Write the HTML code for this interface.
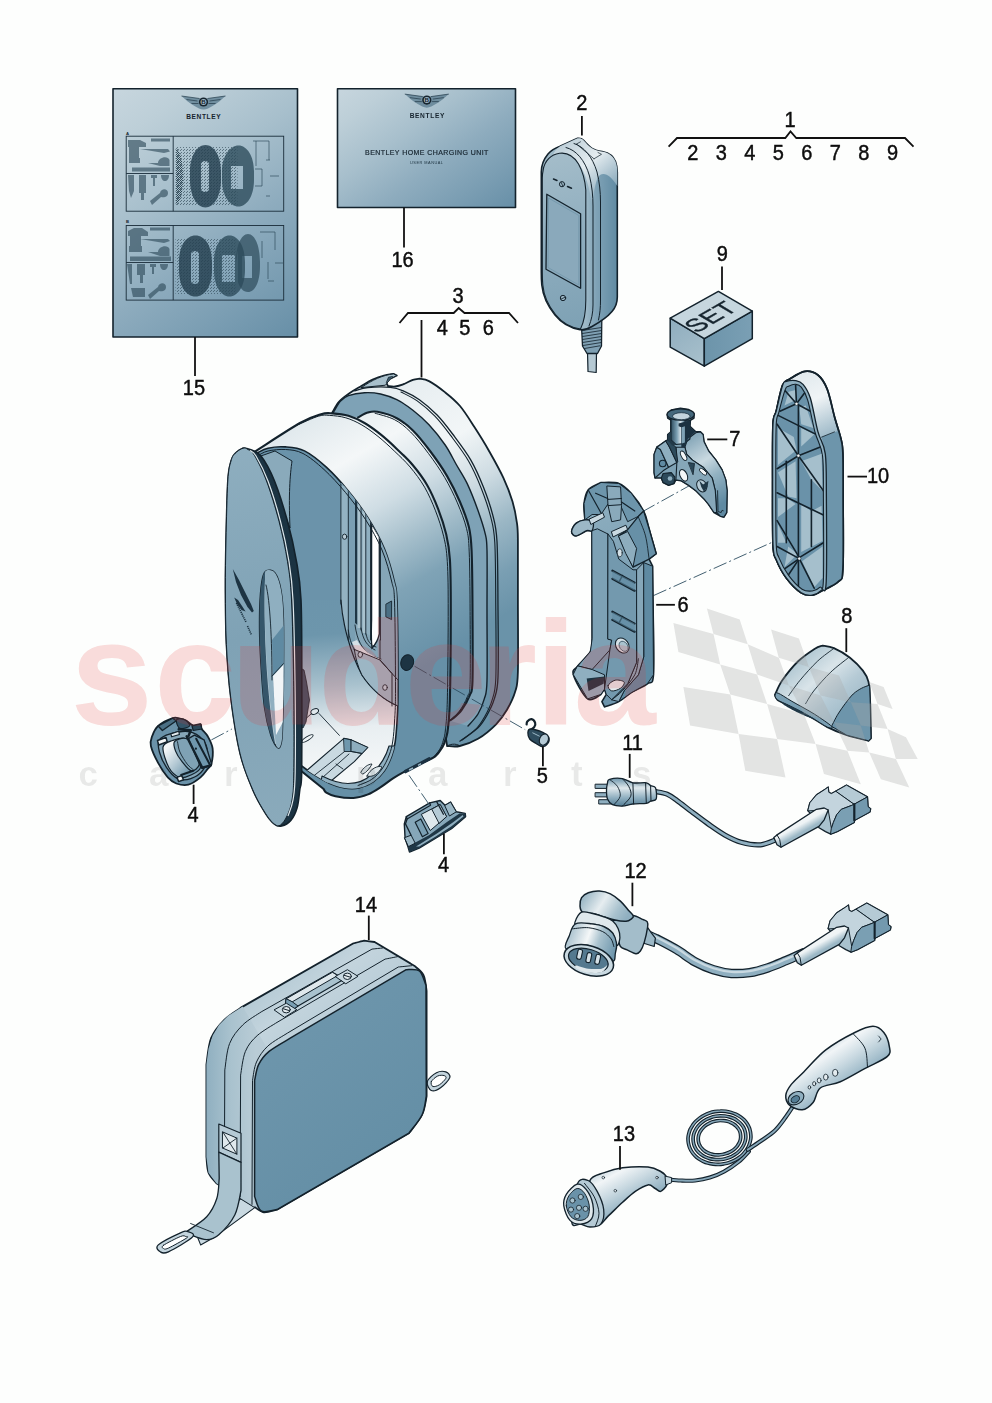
<!DOCTYPE html>
<html><head><meta charset="utf-8"><title>Parts diagram</title>
<style>
html,body{margin:0;padding:0;background:#fff;}
body{width:992px;height:1403px;overflow:hidden;}
svg{display:block;}
svg text{font-family:"Liberation Sans",sans-serif;}
.o{stroke:#13222c;stroke-linejoin:round;stroke-linecap:round;}
.n{fill:none;stroke:#13222c;stroke-linejoin:round;stroke-linecap:round;}
.lbl{font-size:21.5px;fill:#0d0d0d;stroke:#0d0d0d;stroke-width:.45px;}
.ld{stroke:#111;stroke-width:1.8;fill:none;}
</style></head><body>
<svg width="992" height="1403" viewBox="0 0 992 1403">
<rect width="992" height="1403" fill="#fdfefd"/>
<g opacity=".999">
<!-- defs -->
<defs>
<linearGradient id="gSheet" gradientUnits="userSpaceOnUse" x1="113" y1="88.7" x2="290.5" y2="342">
<stop offset="0" stop-color="#c7d6de"/><stop offset="0.15" stop-color="#bdcfd8"/><stop offset="0.38" stop-color="#a7bfcc"/><stop offset="0.6" stop-color="#8eacbe"/><stop offset="0.8" stop-color="#7b9eb3"/><stop offset="1" stop-color="#678fa7"/>
</linearGradient>
<pattern id="dith" width="2" height="2" patternUnits="userSpaceOnUse"><rect width="1" height="1" fill="#1c3442"/><rect x="1" y="1" width="1" height="1" fill="#1c3442"/></pattern>
<pattern id="dith2" width="3" height="3" patternUnits="userSpaceOnUse"><rect width="1" height="1" fill="#1c3442"/><rect x="1" y="2" width="1" height="1" fill="#1c3442"/></pattern>
<linearGradient id="gSheet16" gradientUnits="userSpaceOnUse" x1="337" y1="89" x2="451.5" y2="252.4">
<stop offset="0" stop-color="#c7d6de"/><stop offset="0.15" stop-color="#bdcfd8"/><stop offset="0.38" stop-color="#a7bfcc"/><stop offset="0.6" stop-color="#8eacbe"/><stop offset="0.8" stop-color="#7b9eb3"/><stop offset="1" stop-color="#678fa7"/>
</linearGradient>
</defs>

<!-- sheets -->
<g id="sheet15">
<rect x="113" y="88.7" width="184.5" height="248.3" fill="url(#gSheet)" class="o" stroke-width="1.6"/>
<g id="wings15" transform="translate(203.5,102)">
<path d="M-4 -3.500L-22 -6C-18.500 -2.500-14 1-9 4C-6 6-3 7.300 0 7.600C3 7.300 6 6 9 4C14 1 18.500 -2.500 22 -6L4 -3.500Z" fill="#5f7f92" opacity=".8"/>
<path d="M-22 -6L-4 -3.500M22 -6L4 -3.500M-17 -2.500L-6 -1M17 -2.500L6 -1M-12 1.500L-5 1.500M12 1.500L5 1.500" stroke="#1f3746" stroke-width=".8" fill="none" opacity=".85"/>
<circle cx="0" cy="0" r="4.600" fill="#16242e"/><circle cx="0" cy="0" r="3" fill="#9fb8c6"/>
<text x="0" y="2.300" font-size="6.200" font-weight="bold" text-anchor="middle" fill="#16242e">B</text>
</g>
<text x="203.4" y="118.8" font-size="6.6" font-weight="bold" text-anchor="middle" fill="#16242e" textLength="34.5" lengthAdjust="spacing">BENTLEY</text>
<text x="126" y="134.6" font-size="4.2" font-weight="bold" fill="#16242e">A</text>
<text x="126" y="222.8" font-size="4.2" font-weight="bold" fill="#16242e">B</text>
<g fill="none" stroke="#1a2d3a" stroke-width="0.9">
<rect x="126.2" y="136.2" width="157.5" height="75"/><path d="M173.2 136.2V211.2M126.2 173.5H173.2"/>
<rect x="126.2" y="225.5" width="157.5" height="74.6"/><path d="M173.2 225.5V300.1M126.2 262.5H173.2"/>
</g>
<!-- panel A ovals -->
<g>
<rect x="175.5" y="147" width="62" height="58" fill="url(#dith2)" opacity=".55"/>
<path d="M176 148C185 152 186 200 176 205Z" fill="url(#dith)" opacity=".8"/>
<path d="M190 171.5C190 156 197 145 205.5 145C214 145 221 156 221 171.5V180C221 196 214 207.5 205.5 207.5C197 207.5 190 196 190 180ZM201 164V189C201 193 209 193 209 189V164C209 160 201 160 201 164Z" fill="#24404f" fill-rule="evenodd" opacity=".82"/>
<path d="M222 171.5C222 156 230 145.5 238.5 145.5C247 145.5 254 156 254 171.5V180C254 196 247 206.5 238.5 206.5C230 206.5 222 196 222 180ZM231 166V189H243V166Z" fill="#2c4a5a" fill-rule="evenodd" opacity=".78"/>
<path d="M253 141H269V160M256 141V166M262 169V186M255 169H262M255 186H262M270 176H279M266 196H270M266 160H270" fill="none" stroke="#2a4656" stroke-width="0.8" opacity=".8"/>
</g>
<!-- panel B ovals -->
<g>
<rect x="175.5" y="238" width="60" height="56" fill="url(#dith2)" opacity=".5"/>
<path d="M179 262C179 246 186 235.5 195.5 235.5C205 235.5 212 246 212 262V270C212 286 205 296.5 195.5 296.5C186 296.5 179 286 179 270ZM191 254V281C191 285 199 285 199 281V254C199 250 191 250 191 254Z" fill="#24404f" fill-rule="evenodd" opacity=".82"/>
<path d="M214 262C214 246 221 235.500 229.500 235.500C238 235.500 245 246 245 262V270C245 286 238 296.500 229.500 296.500C221 296.500 214 286 214 270ZM222 255V282H235V255Z" fill="#2c4a5a" fill-rule="evenodd" opacity=".78"/>
<path d="M236 262C236 246 241 234 248 234C255 234 260 246 260 262V266C260 282 255 292 248 292C243 292 240 288 238 282V250ZM242 256V278H252V256Z" fill="#2c4a5a" fill-rule="evenodd" opacity=".7"/>
<path d="M260 232H275V250M262 241V258M268 262V279M275 263H283M268 281H274" fill="none" stroke="#2a4656" stroke-width="0.8" opacity=".8"/>
</g>
<!-- tools A -->
<g fill="#2d4959" opacity=".62">
<path d="M128 140H140L146 143V147H139V162H129V147H128Z"/><rect x="129" y="158" width="11" height="5"/>
<rect x="151" y="138.500" width="19" height="3"/><path d="M140 149H168L170 151.500L164 153Z"/>
<path d="M148 163H158C158 157 168 155 169.500 160V166H160Z"/>
<rect x="132" y="167.500" width="38" height="4"/>
<path d="M128 175H134V191L131 198L129 191ZM139 175H146V193H144V200H141V193H139ZM151 175H157V178H155V186H153V178H151ZM161 175H169C169 183 161 183 161 175Z"/>
<path d="M150 201L160 193C161 188 168 188 168 193C168 197 164 198 161 197L152 205Z"/>
</g>
<!-- tools B -->
<g fill="#2d4959" opacity=".62">
<path d="M128 231L134 228H142L148 232V236H141V248H130V236H128Z"/><rect x="129" y="246" width="13" height="6"/>
<rect x="150" y="227.500" width="20" height="3"/><path d="M140 239H168L170 241L164 243Z"/>
<path d="M148 252H158C158 246 168 244 169.500 249V256H160Z"/>
<rect x="130" y="256.500" width="41" height="4.500"/>
<path d="M127 264H132V284H130ZM137 264H145V275H143V283H140V275H137ZM150 264H156V267H154V274H152V267H150ZM160 264H168C168 272 160 272 160 264Z"/>
<path d="M131 288H145V297H133Z"/>
<path d="M148 295L158 287C159 282 166 282 166 287C166 291 162 292 159 291L150 299Z"/>
</g>
</g>
<g id="sheet16">
<rect x="337.500" y="88.7" width="178" height="118.8" fill="url(#gSheet16)" class="o" stroke-width="1.6"/>
<g transform="translate(426.8,100.1)">
<path d="M-4 -3.500L-22 -6C-18.500 -2.500-14 1-9 4C-6 6-3 7.300 0 7.600C3 7.300 6 6 9 4C14 1 18.500 -2.500 22 -6L4 -3.500Z" fill="#5f7f92" opacity=".8"/>
<path d="M-22 -6L-4 -3.500M22 -6L4 -3.500M-17 -2.500L-6 -1M17 -2.500L6 -1M-12 1.500L-5 1.500M12 1.500L5 1.500" stroke="#1f3746" stroke-width=".8" fill="none" opacity=".85"/>
<circle cx="0" cy="0" r="4.600" fill="#16242e"/><circle cx="0" cy="0" r="3" fill="#9fb8c6"/>
<text x="0" y="2.300" font-size="6.200" font-weight="bold" text-anchor="middle" fill="#16242e">B</text>
</g>
<text x="427" y="117.600" font-size="6.600" font-weight="bold" text-anchor="middle" fill="#16242e" textLength="34.700" lengthAdjust="spacing">BENTLEY</text>
<text x="426.700" y="154.600" font-size="7" text-anchor="middle" fill="#16242e" stroke="#16242e" stroke-width=".18" textLength="123.300" lengthAdjust="spacing">BENTLEY HOME CHARGING UNIT</text>
<text x="426.500" y="163.800" font-size="3.900" text-anchor="middle" fill="#1d3340" textLength="33" lengthAdjust="spacing">USER MANUAL</text>
</g>

<!-- part2 -->
<defs>
<linearGradient id="g2side" gradientUnits="userSpaceOnUse" x1="585" y1="0" x2="618" y2="0"><stop offset="0" stop-color="#9fbac8"/><stop offset=".35" stop-color="#7fa2b6"/><stop offset="1" stop-color="#5f8aa2"/></linearGradient>
<linearGradient id="g2top" gradientUnits="userSpaceOnUse" x1="560" y1="140" x2="612" y2="200"><stop offset="0" stop-color="#b9ccd6"/><stop offset=".45" stop-color="#e4ecf0"/><stop offset=".8" stop-color="#9db8c7"/><stop offset="1" stop-color="#6f97ad"/></linearGradient>
<linearGradient id="g2face" gradientUnits="userSpaceOnUse" x1="545" y1="160" x2="585" y2="320"><stop offset="0" stop-color="#a3bcc9"/><stop offset=".5" stop-color="#8eadbe"/><stop offset="1" stop-color="#7fa2b5"/></linearGradient>
</defs>
<g id="part2">
<!-- gland + cable -->
<path d="M587.500 352L588 371.500L596.200 372.500L596.500 352Z" fill="#b5c9d3" class="o" stroke-width="1.2"/>
<path d="M581.500 326L582.500 346L587 353.500H597.500L601.500 346L601.800 320Z" fill="#7fa0b3" class="o" stroke-width="1.3"/>
<path d="M582.300 330.500L601.500 327.500M582.300 333.500L601.500 330.500M582.500 336.500L601.500 333.500M582.500 339.500L601.500 336.500M582.600 342.500L601.500 339.500M583 345.500L601.500 342.500M584.500 348.500L600 345.800" class="n" stroke-width=".8"/>
<!-- body -->
<path d="M577.600 138.300C580 138 582 138.600 583.500 140.200C586 143 588.500 146 592 148.300C595 150.300 599 151 603 151.800C609 153 613.500 156.500 615.500 161.500C616.800 165 617.300 168 617.300 172V297C617.300 303 615.500 307.500 612 311.500C607 317.500 600 322 592 326.500C588 328.800 584 330.200 580 329.600C570 328 561 322.500 555 315C548 306.500 543 296.500 541.800 285C541.300 280 541.300 276 541.300 272V172C541.300 165 543.500 159.500 548 154C551.500 150 555.500 148 560 146.300Z" fill="url(#g2side)" class="o" stroke-width="1.6"/>
<!-- top light -->
<path d="M577.600 138.300C580 138 582 138.600 583.500 140.200C586 143 588.500 146 592 148.300C595 150.300 599 151 603 151.800C609 153 613.500 156.500 615.500 161.500C616.800 165 617.300 168 617.300 172V186C611 176 605 172 600 175C596 178 594 190 592 206C590 190 586 172 577 161C570 153 560 152 552 157C554 152 556.500 148.500 560 146.300Z" fill="url(#g2top)"/>
<!-- face -->
<path d="M543.200 170C544.500 161 551 154.500 559.500 153.300C567 152.300 574 156.500 578.500 164C582.500 171 585 180 585.800 190V300C585.800 312 584 322 580.500 329C571 327.500 561.500 322 555.500 314.500C548.500 306 543.800 296 542.800 285C542.300 280 542.300 276 542.300 272V178C542.300 175 542.600 172.500 543.200 170Z" fill="url(#g2face)" class="o" stroke-width="1.1"/>
<!-- side seams -->
<path d="M566 147.500C576 150 585 160 589.500 176C592 186 593 196 593 206V305C593 313 591.500 320 589 326" class="n" stroke-width="1"/>
<path d="M574 143.500C584 146.500 592.500 157 597 172C599.500 182 600.500 192 600.500 202V300C600.500 308 600 313 598.500 320" class="n" stroke-width="1"/>
<path d="M576.5 144L580.500 141.800M594 158.800L601.500 154.300L598 152.500M594 158.800L577 144.500" class="n" stroke-width=".7"/>
<!-- screen -->
<path d="M546.800 194.200L580.600 213.800V288.300L546 269.200Z" fill="#8aa9bb" class="o" stroke-width="1.3"/>
<path d="M548.500 198L578.800 215.500V285L548 267.500Z" fill="none" stroke="#6f93a8" stroke-width=".7"/>
<!-- buttons -->
<circle cx="562" cy="184.200" r="2.600" fill="#9ab5c4" class="o" stroke-width="1"/><path d="M561.200 182.500L562.800 186" class="n" stroke-width=".8"/>
<path d="M553.500 179L557 180.500M567.500 186.500L571.500 188.200" class="n" stroke-width="1.500"/>
<circle cx="563" cy="298" r="2.700" fill="#9ab5c4" class="o" stroke-width="1"/><path d="M561.300 299L564.800 297.300" class="n" stroke-width=".8"/>
</g>

<!-- part9 -->
<defs>
<linearGradient id="g9l" gradientUnits="userSpaceOnUse" x1="670" y1="320" x2="704" y2="366"><stop offset="0" stop-color="#8fadbe"/><stop offset="1" stop-color="#a9c1cd"/></linearGradient>
<linearGradient id="g9r" gradientUnits="userSpaceOnUse" x1="704" y1="340" x2="752" y2="340"><stop offset="0" stop-color="#6c94aa"/><stop offset="1" stop-color="#7a9fb4"/></linearGradient>
</defs>
<g id="part9">
<path d="M670.200 318.200L704.300 338.700V366.200L670.200 347.100Z" fill="url(#g9l)" class="o" stroke-width="1.5"/>
<path d="M704.300 338.700L752.300 311.100V338.700L704.300 366.200Z" fill="url(#g9r)" class="o" stroke-width="1.5"/>
<path d="M718.400 291.400L752.300 311.100L704.300 338.700L670.200 318.200Z" fill="#c6d6de" class="o" stroke-width="1.5"/>
<text transform="matrix(0.868 -0.497 0.858 0.514 696.8 333.4)" x="0" y="0" font-size="25" fill="#16242e" stroke="#16242e" stroke-width=".4" style="font-family:'Liberation Sans',sans-serif">SET</text>
</g>

<!-- part3 -->
<defs>
<linearGradient id="g3a" gradientUnits="userSpaceOnUse" x1="330" y1="400" x2="470" y2="640">
<stop offset="0" stop-color="#dfe8ec"/><stop offset=".22" stop-color="#f4f7f8"/><stop offset=".42" stop-color="#cfdde4"/><stop offset=".58" stop-color="#a3bdca"/><stop offset=".72" stop-color="#7fa3b6"/><stop offset="1" stop-color="#6690a7"/></linearGradient>
<linearGradient id="g3b" gradientUnits="userSpaceOnUse" x1="400" y1="380" x2="530" y2="600">
<stop offset="0" stop-color="#e6edf0"/><stop offset=".3" stop-color="#f2f6f7"/><stop offset=".5" stop-color="#cddbe2"/><stop offset=".68" stop-color="#9bb7c5"/><stop offset=".85" stop-color="#7a9fb3"/><stop offset="1" stop-color="#6a93a9"/></linearGradient>
<linearGradient id="g3cav" gradientUnits="userSpaceOnUse" x1="330" y1="560" x2="345" y2="770">
<stop offset="0" stop-color="#6a93aa"/><stop offset=".35" stop-color="#6d96ac"/><stop offset=".6" stop-color="#a9c2ce"/><stop offset=".8" stop-color="#e8eef1"/><stop offset="1" stop-color="#f4f7f8"/></linearGradient>
<linearGradient id="g3disc" gradientUnits="userSpaceOnUse" x1="225" y1="450" x2="300" y2="820">
<stop offset="0" stop-color="#8eaebf"/><stop offset=".5" stop-color="#7fa2b5"/><stop offset="1" stop-color="#8aaabb"/></linearGradient>
</defs>
<g id="part3">
<path d="M332.3 412.6C333.4 410.9 336.0 405.2 338.7 402.1C341.4 399.0 344.6 396.7 348.4 394.0C352.2 391.3 357.3 388.4 361.3 386.0C365.3 383.6 368.8 381.2 372.6 379.5C376.4 377.8 380.4 376.4 383.9 375.5C387.4 374.6 391.9 374.2 393.5 373.9L396.8 375.5L390.3 378.7L386.3 382.7L387.9 386.0C389.1 386.1 392.6 386.8 395.2 386.5C397.8 386.2 400.2 385.5 403.2 384.4C406.1 383.3 410.2 380.8 412.9 379.8C415.6 378.9 418.3 378.9 419.4 378.7C421.0 379.1 424.7 378.8 429.0 381.1C433.3 383.4 440.0 388.2 445.2 392.4C450.4 396.5 455.1 400.2 460.0 406.0C464.9 411.8 469.6 419.6 474.4 427.0C479.2 434.4 484.1 442.2 488.9 450.7C493.7 459.2 499.5 469.4 503.4 477.9C507.3 486.4 510.2 493.9 512.5 501.5C514.8 509.1 516.1 516.6 517.0 523.3C517.9 530.0 517.8 528.7 517.9 541.5C518.0 554.3 517.9 578.3 517.9 600.0C517.9 621.7 518.3 656.4 517.9 671.7C517.5 687.0 517.0 685.2 515.2 691.6C513.4 698.0 510.2 704.3 507.0 709.8C503.8 715.2 500.9 719.5 496.1 724.3C491.3 729.1 484.1 735.2 478.0 738.8C471.9 742.4 464.9 744.8 459.8 746.0C454.7 747.2 449.2 746.0 447.1 746.0L440 700L400 500Z" fill="url(#g3b)" class="o" stroke-width="1.8"/>
<path d="M361.3 387.6L385.5 385.2L390.3 378.7L396.8 375.5L393.5 373.9C383 375 372 380 361.3 387.6Z" fill="#a8c0cc" class="o" stroke-width="1"/>
<path d="M386.3 382.7L388.500 377.200L392.500 376.500" fill="#3c5d70" class="o" stroke-width=".8"/>
<path d="M333.5 412.3C334.6 410.5 337.8 404.1 340.3 401.3C342.8 398.5 344.4 397.0 348.4 395.6C352.4 394.2 359.1 393.0 364.5 392.7C369.9 392.4 375.2 392.8 380.6 394.0C386.0 395.2 391.4 397.0 396.8 399.7C402.2 402.4 407.5 406.0 412.9 410.2C418.3 414.4 423.6 418.9 429.0 424.7C434.4 430.5 440.7 438.4 445.2 445.0C449.7 451.6 452.4 457.6 456.0 464.0C459.6 470.4 463.4 475.6 467.1 483.4C470.8 491.2 475.0 502.1 478.0 510.6C481.0 519.1 483.8 527.6 485.3 534.2C486.8 540.9 486.7 537.9 487.0 550.5C487.3 563.1 487.0 588.3 487.0 610.0C487.0 631.7 487.4 665.9 487.0 680.7C486.6 695.5 485.8 693.4 484.3 698.9C482.8 704.4 480.7 709.5 478.0 714.0C475.3 718.5 469.7 724.0 468.0 726.0L449 720.6C449.6 720.3 450.5 720.6 452.6 718.8C454.7 717.0 458.8 713.7 461.7 709.8C464.6 705.9 468.0 700.1 469.8 695.2C471.6 690.4 472.1 694.9 472.5 680.7C472.9 666.5 472.6 631.7 472.5 610.0C472.4 588.3 472.2 564.3 471.6 550.5C471.0 536.7 470.9 535.2 468.9 527.0C466.9 518.8 463.4 510.0 459.8 501.5C456.2 493.0 451.9 484.4 447.1 476.1C442.3 467.9 436.5 459.6 430.8 452.0C425.1 444.4 418.6 436.1 412.9 430.5C407.2 424.9 402.7 421.3 396.8 418.2C390.9 415.1 382.2 412.7 377.4 411.8C372.5 410.9 370.9 411.7 367.7 412.6C364.5 413.5 361.2 416.0 358.1 417.4C355.0 418.8 352.7 421.1 349.0 421.0C345.3 420.9 338.2 417.7 336.0 417.0Z" fill="#7ea2b6" stroke="none"/>
<path d="M354.8 390.8C356.9 390.3 361.8 388.2 367.7 387.6C373.6 387.0 384.4 386.8 390.3 387.3C396.2 387.8 398.4 388.7 403.2 390.8C408.0 392.9 413.8 395.7 419.4 399.7C425.0 403.7 431.6 409.3 437.1 415.0C442.6 420.7 447.0 426.5 452.6 434.0C458.2 441.5 465.6 451.0 470.7 459.8C475.8 468.6 479.8 477.9 483.4 487.0C487.0 496.1 490.2 505.1 492.5 514.2C494.8 523.3 496.1 525.5 497.0 541.5C497.9 557.5 497.8 587.4 498.0 610.0C498.2 632.6 498.6 662.3 498.0 677.1C497.4 691.9 496.1 692.5 494.3 698.9C492.5 705.2 489.7 710.4 487.0 715.2C484.3 720.0 482.2 723.8 478.0 727.9C473.8 732.0 464.7 738.0 462.0 740.0" class="n" stroke-width="1.3"/>
<path d="M403.2 390.8C405.9 392.3 413.8 395.7 419.4 399.7C425.0 403.7 431.6 409.3 437.1 415.0C442.6 420.7 447.0 426.5 452.6 434.0C458.2 441.5 465.6 451.0 470.7 459.8C475.8 468.6 479.8 477.9 483.4 487.0C487.0 496.1 490.2 505.1 492.5 514.2C494.8 523.3 496.1 525.5 497.0 541.5C497.9 557.5 497.8 587.4 498.0 610.0C498.2 632.6 498.6 662.3 498.0 677.1C497.4 691.9 496.1 692.5 494.3 698.9C492.5 705.2 489.7 710.4 487.0 715.2C484.3 720.0 482.2 723.8 478.0 727.9C473.8 732.0 464.7 738.0 462.0 740.0" class="n" stroke-width="1.1" transform="translate(-2.2,1.2)"/>
<path d="M333.5 412.3C334.6 410.5 337.8 404.1 340.3 401.3C342.8 398.5 344.4 397.0 348.4 395.6C352.4 394.2 359.1 393.0 364.5 392.7C369.9 392.4 375.2 392.8 380.6 394.0C386.0 395.2 391.4 397.0 396.8 399.7C402.2 402.4 407.5 406.0 412.9 410.2C418.3 414.4 423.6 418.9 429.0 424.7C434.4 430.5 440.7 438.4 445.2 445.0C449.7 451.6 452.4 457.6 456.0 464.0C459.6 470.4 463.4 475.6 467.1 483.4C470.8 491.2 475.0 502.1 478.0 510.6C481.0 519.1 483.8 527.6 485.3 534.2C486.8 540.9 486.7 537.9 487.0 550.5C487.3 563.1 487.0 588.3 487.0 610.0C487.0 631.7 487.4 665.9 487.0 680.7C486.6 695.5 485.8 693.4 484.3 698.9C482.8 704.4 480.7 709.5 478.0 714.0C475.3 718.5 469.7 724.0 468.0 726.0" class="n" stroke-width="1.4"/>
<path d="M358.1 417.4C359.7 416.6 364.5 413.5 367.7 412.6C370.9 411.7 372.5 410.9 377.4 411.8C382.2 412.7 390.9 415.1 396.8 418.2C402.7 421.3 407.2 424.9 412.9 430.5C418.6 436.1 425.1 444.4 430.8 452.0C436.5 459.6 442.3 467.9 447.1 476.1C451.9 484.4 456.2 493.0 459.8 501.5C463.4 510.0 466.9 518.8 468.9 527.0C470.9 535.2 471.0 536.7 471.6 550.5C472.2 564.3 472.4 588.3 472.5 610.0C472.6 631.7 472.9 666.5 472.5 680.7C472.1 694.9 471.6 690.4 469.8 695.2C468.0 700.1 464.6 705.9 461.7 709.8C458.8 713.7 454.7 717.0 452.6 718.8C450.5 720.6 449.6 720.3 449.0 720.6L448 727.9C446.3 736.4 447.4 734.4 448.0 727.9C448.6 721.4 449.4 718.5 449.9 698.9C450.4 679.2 450.8 633.2 450.8 610.0C450.8 586.8 450.7 572.2 449.9 559.6C449.1 547.0 448.2 542.7 446.2 534.2C444.2 525.7 441.3 517.0 438.1 508.8C434.9 500.6 431.4 492.5 427.2 485.2C423.0 477.9 417.8 471.1 412.7 465.0C407.6 458.9 402.1 454.0 396.8 448.9C391.5 443.8 386.0 438.7 380.6 434.4C375.2 430.1 369.9 426.1 364.5 423.0C359.1 419.9 353.8 417.4 348.4 415.8C343.0 414.2 335.0 413.8 332.3 413.4Z" fill="url(#g3a)" stroke="none"/>
<path d="M358.1 417.4C359.7 416.6 364.5 413.5 367.7 412.6C370.9 411.7 372.5 410.9 377.4 411.8C382.2 412.7 390.9 415.1 396.8 418.2C402.7 421.3 407.2 424.9 412.9 430.5C418.6 436.1 425.1 444.4 430.8 452.0C436.5 459.6 442.3 467.9 447.1 476.1C451.9 484.4 456.2 493.0 459.8 501.5C463.4 510.0 466.9 518.8 468.9 527.0C470.9 535.2 471.0 536.7 471.6 550.5C472.2 564.3 472.4 588.3 472.5 610.0C472.6 631.7 472.9 666.5 472.5 680.7C472.1 694.9 471.6 690.4 469.8 695.2C468.0 700.1 464.6 705.9 461.7 709.8C458.8 713.7 454.7 717.0 452.6 718.8C450.5 720.6 449.6 720.3 449.0 720.6" class="n" stroke-width="2.1"/>
<path d="M377.4 411.8C380.6 412.9 390.9 415.1 396.8 418.2C402.7 421.3 407.2 424.9 412.9 430.5C418.6 436.1 425.1 444.4 430.8 452.0C436.5 459.6 442.3 467.9 447.1 476.1C451.9 484.4 456.2 493.0 459.8 501.5C463.4 510.0 466.9 518.8 468.9 527.0C470.9 535.2 471.0 536.7 471.6 550.5C472.2 564.3 472.4 588.3 472.5 610.0C472.6 631.7 472.9 666.5 472.5 680.7C472.1 694.9 471.6 690.4 469.8 695.2C468.0 700.1 464.6 705.9 461.7 709.8C458.8 713.7 454.7 717.0 452.6 718.8C450.5 720.6 449.6 720.3 449.0 720.6" class="n" stroke-width="1" transform="translate(-2.4,1.4)"/>
<path d="M254.1 452.0C261.8 447.2 288.9 429.3 300.0 423.0C311.1 416.7 315.6 415.8 321.0 414.2C326.4 412.6 327.7 413.1 332.3 413.4C336.9 413.7 343.0 414.2 348.4 415.8C353.8 417.4 359.1 419.9 364.5 423.0C369.9 426.1 375.2 430.1 380.6 434.4C386.0 438.7 391.5 443.8 396.8 448.9C402.1 454.0 407.6 458.9 412.7 465.0C417.8 471.1 423.0 477.9 427.2 485.2C431.4 492.5 434.9 500.6 438.1 508.8C441.3 517.0 444.2 525.7 446.2 534.2C448.2 542.7 449.1 547.0 449.9 559.6C450.7 572.2 450.8 586.8 450.8 610.0C450.8 633.2 450.4 679.2 449.9 698.9C449.4 718.5 448.6 721.4 448.0 727.9C447.4 734.4 446.9 734.9 446.0 738.1C445.1 741.3 444.2 744.2 442.4 747.2C440.6 750.2 438.8 753.6 435.2 756.3C431.6 759.0 425.5 761.1 420.6 763.5C415.8 765.9 410.6 768.4 406.1 770.8C401.6 773.2 397.6 775.4 393.4 778.1C389.2 780.8 384.9 784.4 380.7 787.1C376.5 789.8 372.5 792.6 368.0 794.4C363.5 796.2 358.9 797.7 353.5 798.0C348.1 798.3 339.9 797.1 335.4 796.2C330.9 795.3 328.3 793.8 326.3 792.6C324.3 791.4 324.1 789.6 323.6 789.0L300 770L299.8 590L290 540L275 495L262 465Z" fill="url(#g3a)" class="o" stroke-width="2.1"/>
<path d="M300.0 423.0C303.5 421.5 315.6 415.8 321.0 414.2C326.4 412.6 327.7 413.1 332.3 413.4C336.9 413.7 343.0 414.2 348.4 415.8C353.8 417.4 359.1 419.9 364.5 423.0C369.9 426.1 375.2 430.1 380.6 434.4C386.0 438.7 391.5 443.8 396.8 448.9C402.1 454.0 407.6 458.9 412.7 465.0C417.8 471.1 423.0 477.9 427.2 485.2C431.4 492.5 434.9 500.6 438.1 508.8C441.3 517.0 444.2 525.7 446.2 534.2C448.2 542.7 449.1 547.0 449.9 559.6C450.7 572.2 450.8 586.8 450.8 610.0C450.8 633.2 450.4 679.2 449.9 698.9C449.4 718.5 448.6 721.4 448.0 727.9C447.4 734.4 446.9 734.9 446.0 738.1C445.1 741.3 444.2 744.2 442.4 747.2C440.6 750.2 436.4 754.8 435.2 756.3" class="n" stroke-width="1" transform="translate(-2.6,2)"/>
<path d="M256.6 453.2C258.5 452.4 263.2 449.2 268.0 448.2C272.8 447.1 279.5 446.4 285.6 446.9C291.7 447.3 297.7 447.5 304.5 450.9C311.3 454.3 319.0 460.5 326.3 467.2C333.6 473.9 341.2 482.3 348.1 490.8C355.1 499.3 361.9 508.3 368.0 518.0C374.1 527.7 380.0 538.3 384.4 548.9C388.8 559.5 392.2 572.4 394.3 581.5C396.4 590.6 396.5 585.2 397.1 603.3C397.7 621.4 398.0 670.5 398.0 690.0C398.0 709.5 397.6 711.4 397.1 720.0C396.6 728.6 396.1 735.8 395.2 741.8C394.3 747.8 393.4 751.5 391.6 756.3C389.8 761.1 387.4 766.6 384.4 770.8C381.4 775.0 377.7 778.8 373.5 781.7C369.3 784.6 363.9 787.0 359.0 788.0C354.1 789.0 349.2 788.8 344.4 788.0C339.5 787.2 335.0 785.8 329.9 783.5C324.8 781.2 318.4 777.4 313.6 774.4C308.8 771.4 303.0 766.9 300.9 765.4L299.8 590L290 540L275 495L262 465Z" fill="url(#g3cav)" class="o" stroke-width="1.6"/>
<clipPath id="cav"><path d="M256.6 453.2C258.5 452.4 263.2 449.2 268.0 448.2C272.8 447.1 279.5 446.4 285.6 446.9C291.7 447.3 297.7 447.5 304.5 450.9C311.3 454.3 319.0 460.5 326.3 467.2C333.6 473.9 341.2 482.3 348.1 490.8C355.1 499.3 361.9 508.3 368.0 518.0C374.1 527.7 380.0 538.3 384.4 548.9C388.8 559.5 392.2 572.4 394.3 581.5C396.4 590.6 396.5 585.2 397.1 603.3C397.7 621.4 398.0 670.5 398.0 690.0C398.0 709.5 397.6 711.4 397.1 720.0C396.6 728.6 396.1 735.8 395.2 741.8C394.3 747.8 393.4 751.5 391.6 756.3C389.8 761.1 387.4 766.6 384.4 770.8C381.4 775.0 377.7 778.8 373.5 781.7C369.3 784.6 363.9 787.0 359.0 788.0C354.1 789.0 349.2 788.8 344.4 788.0C339.5 787.2 335.0 785.8 329.9 783.5C324.8 781.2 318.4 777.4 313.6 774.4C308.8 771.4 303.0 766.9 300.9 765.4L299.8 590L290 540L275 495L262 465Z"/></clipPath>
<g clip-path="url(#cav)">
<path d="M256 453C262 449 275 446 290 448C300 452 318 462 336 480L340.900 486V600C342 625 350 652 362 675C372 690 384 700 398 706V800H300V590L290 540L275 495Z" fill="none"/>
<path d="M293 462C296 457 300 454.500 304 453.500L340.900 486V600L300 600L299.800 590L290 540L280 505Z" fill="#6b93aa"/>
<path d="M258 457L275 451L292 461C290 475 288.500 495 290 528L282 508L272 483Z" fill="#8aaabb" class="o" stroke-width="1"/>
<path d="M340.900 483V600C342 625 350 652 362 675C372 690 384 700 398 706V560C392 530 375 505 355 485Z" fill="#85a6b8"/>
<path d="M340.900 486H348.300V640L340.900 610Z" fill="#93b2c2"/>
<path d="M348.300 492H355V650L348.300 640Z" fill="#7a9fb3"/>
<path d="M355 497L357.500 499V625L355 623Z" fill="#1e3645"/>
<path d="M357.500 499H361V628H357.500ZM362.500 503H365.600V633H362.500Z" fill="#a9c2ce"/>
<path d="M366 506H370.300V636L366 633Z" fill="#8fafc0"/>
<path d="M371.600 524L379.300 537V634C378 640 376 644 372 648C371 640 371.300 630 371.600 620Z" fill="#fdfefe" stroke="#13222c" stroke-width="1.300"/>
<path d="M340.900 484V604M348.300 490V640M361 502V630M365.800 506V634M370.500 512V640M380.500 540V640" class="n" stroke-width=".9"/>
<path d="M340.900 600C342.400 622.400 349.900 652.400 361.800 674.800C372 690 384 700 398 706" class="n" stroke-width="1.200"/>
<path d="M348.300 630C350 645 356 656 368 664L380 668M355 625C357 640 362 650 372 656L381 659M361 628C363 640 367 646 375 650M366 634C367.500 641 370 645 376 647" class="n" stroke-width=".9"/>
<path d="M352 642C357 655 364 662 380 668L381 659C372 656 362 650 357 640Z" fill="#dfe8ec" opacity=".9"/>
<path d="M354.300 649.400L379.800 659.900L391.800 673.300L398 680V706C384 700 372 690 361.800 674.800C358 667 355.500 658 354.300 649.400Z" fill="#9cb6c4" class="o" stroke-width="1"/>
<path d="M380 640V660L392 673.500V706" class="n" stroke-width="1"/>
<ellipse cx="360.300" cy="654.600" rx="2.300" ry="2.800" fill="#b9ccd6" class="o" stroke-width=".9"/><ellipse cx="385" cy="687.500" rx="2.300" ry="2.800" fill="#b9ccd6" class="o" stroke-width=".9"/>
<ellipse cx="344.600" cy="536.700" rx="2.200" ry="2.600" fill="#b9ccd6" class="o" stroke-width=".9"/>
<path d="M386.200 604L391.600 601V619.600L386.200 617Z" fill="#4a6f84" class="o" stroke-width=".9"/>
<path d="M305 772L343.900 738.400L351.300 739.900L367.800 747.400L354.300 761.600L327.400 784Z" fill="#c9d9e1" class="o" stroke-width="1.100"/>
<path d="M343.900 738.400L351.300 739.900V751.500L344.600 751.500Z" fill="#6f97ad" class="o" stroke-width=".9"/>
<path d="M351.300 739.900L367.800 747.400L362 753.500L351.300 751.500Z" fill="#8dadbe" class="o" stroke-width=".9"/>
<path d="M344.600 751.500L311 778M351.300 751.500L362 753.500M349 754L322 778M336 764L343 769" class="n" stroke-width=".9"/>
<path d="M322 776C332 781 340 783.500 348 783.500C358 783.500 366 780 372 774C380 766 386 757 389 746L398 746V800H318Z" fill="#8fafc0" class="o" stroke-width="1.100"/>
<path d="M361 772C363 768 368 764 372 764C370 768 367 772 363 774ZM367 776C370 769 378 765 382 767C379 773 373 778 367 776Z" fill="#dfe8ec" class="o" stroke-width=".9"/>
<ellipse cx="314.700" cy="711.500" rx="4" ry="2.600" transform="rotate(-25 314.700 711.500)" fill="#dfe8ec" class="o" stroke-width="1"/>
<path d="M319 713.500L339.400 735.400M302 722L311 714" class="n" stroke-width=".9"/>
<ellipse cx="307.500" cy="738.500" rx="6.500" ry="1.800" transform="rotate(-32 307.500 738.500)" fill="#eef3f5" class="o" stroke-width=".9"/>
<path d="M300 768L305 772L300 780" class="n" stroke-width=".9"/>
<path d="M300 668L304 670L306.500 682L309.500 700L306 722L303 728L300 726Z" fill="#3b5163" class="o" stroke-width=".8"/>
</g>
<path d="M258.0 455.5C259.7 454.8 263.4 452.0 268.0 451.0C272.6 450.0 279.8 449.1 285.6 449.5C291.4 449.9 296.6 450.2 303.0 453.5C309.4 456.8 316.9 463.0 324.0 469.5C331.1 476.0 338.6 484.2 345.5 492.5C352.4 500.8 359.4 509.9 365.5 519.5C371.6 529.1 377.6 539.6 382.0 550.0C386.4 560.4 389.7 573.0 391.8 582.0C393.9 591.0 394.0 586.0 394.6 604.0C395.2 622.0 395.5 670.7 395.5 690.0C395.5 709.3 395.1 711.5 394.6 720.0C394.2 728.5 393.7 735.2 392.8 741.0C391.9 746.8 391.0 750.3 389.2 755.0C387.4 759.7 384.9 764.9 382.0 769.0C379.1 773.1 375.5 776.8 371.5 779.5C367.5 782.2 360.2 784.5 358.0 785.5" class="n" stroke-width="1"/>
<ellipse cx="407.200" cy="662.600" rx="6.300" ry="8" transform="rotate(15 407.200 662.600)" fill="#1d3443" class="o" stroke-width="1"/>
<path d="M447.100 746C452 743 458 744 459.800 746" class="n" stroke-width="1"/>
<path d="M405.500 771.500L429 759" fill="none" stroke="#1a3040" stroke-width="3.600" stroke-linecap="round"/>
<path d="M409 770L413 768M418 765.300L421 763.700" fill="none" stroke="#9cb8c6" stroke-width="1.400"/>
<path d="M242.8 448.2C240.3 448.9 237.0 451.4 235.0 453.5C233.0 455.6 232.2 456.4 231.0 461.0C229.8 465.6 228.6 467.8 227.8 481.0C227.0 494.2 226.4 521.8 226.0 540.0C225.6 558.2 225.3 572.6 225.4 590.0C225.5 607.4 225.5 626.2 226.4 644.4C227.3 662.5 228.6 680.8 230.9 698.9C233.2 717.0 236.4 738.2 240.0 753.3C243.6 768.4 248.5 779.6 252.7 789.6C256.9 799.6 261.8 807.5 265.4 813.2C269.0 819.0 271.7 822.0 274.4 824.1C277.1 826.2 279.0 826.5 281.7 825.9C284.4 825.3 288.2 823.4 290.8 820.4C293.4 817.4 295.6 812.8 297.1 807.7C298.6 802.6 299.0 795.6 299.8 789.6C300.6 783.6 301.4 789.6 301.7 771.5C302.0 753.4 301.9 709.3 301.8 680.7C301.7 652.1 301.9 619.9 301.0 600.0C300.1 580.1 298.8 574.7 296.5 561.6C294.2 548.5 291.2 534.7 287.5 521.3C283.8 507.9 278.9 491.9 274.5 481.0C270.1 470.1 265.1 461.2 261.0 456.0C256.9 450.8 253.0 450.8 250.0 449.5C247.0 448.2 245.3 447.5 242.8 448.2Z" fill="#1b3342" class="o" stroke-width="1.600"/>
<path d="M242.8 448.2C240.6 448.9 237.0 451.4 235.0 453.5C233.0 455.6 232.2 456.4 231.0 461.0C229.8 465.6 228.6 467.8 227.8 481.0C227.0 494.2 226.4 521.8 226.0 540.0C225.6 558.2 225.3 572.6 225.4 590.0C225.5 607.4 225.5 626.2 226.4 644.4C227.3 662.5 228.6 680.8 230.9 698.9C233.2 717.0 236.4 738.2 240.0 753.3C243.6 768.4 248.5 779.6 252.7 789.6C256.9 799.6 261.8 807.5 265.4 813.2C269.0 819.0 271.9 822.1 274.4 824.1C276.9 826.1 278.4 826.4 280.5 825.0C282.6 823.6 285.1 820.2 287.0 816.0C288.9 811.8 290.9 807.4 292.0 800.0C293.1 792.6 293.5 791.4 293.8 771.5C294.1 751.6 294.0 709.3 293.6 680.7C293.2 652.1 292.5 619.9 291.5 600.0C290.5 580.1 289.6 574.7 287.5 561.6C285.4 548.5 282.5 534.7 279.0 521.3C275.5 507.9 270.6 492.0 266.5 481.0C262.4 470.0 257.6 460.8 254.5 455.5C251.4 450.2 249.9 450.7 248.0 449.5C246.1 448.3 245.0 447.5 242.8 448.2Z" fill="url(#g3disc)" class="o" stroke-width="1"/>
<path d="M250.0 450.5C251.0 451.4 253.0 450.9 256.0 456.0C259.0 461.1 263.9 470.1 268.0 481.0C272.1 491.9 277.0 507.9 280.5 521.3C284.0 534.7 286.9 548.5 289.0 561.6C291.1 574.7 292.0 580.1 293.0 600.0C294.0 619.9 294.6 652.1 295.0 680.7C295.4 709.3 295.5 751.6 295.2 771.5C294.9 791.4 294.2 792.6 293.0 800.0C291.8 807.4 288.8 813.3 288.0 816.0" fill="none" stroke="#dfe8ec" stroke-width="1.200"/>
<path d="M266.5 570.5C264.4 571.3 263.6 573.1 262.5 578.0C261.4 582.9 260.5 591.3 260.0 600.0C259.5 608.7 259.4 619.6 259.5 630.0C259.6 640.4 260.0 649.6 260.8 662.6C261.6 675.6 262.8 695.8 264.5 707.9C266.2 720.0 268.6 728.5 270.8 735.2C273.1 741.9 276.2 746.8 278.0 747.9C279.8 749.0 280.7 745.6 281.5 742.0C282.3 738.4 282.3 736.3 282.6 726.1C282.9 715.9 283.4 698.4 283.5 680.7C283.6 663.0 283.9 635.1 283.5 620.0C283.1 604.9 282.4 597.8 281.0 590.0C279.6 582.2 277.4 576.2 275.0 573.0C272.6 569.8 268.6 569.7 266.5 570.5Z" fill="#b5cad5" class="o" stroke-width="1.300"/>
<clipPath id="slot"><path d="M266.5 570.5C264.4 571.3 263.6 573.1 262.5 578.0C261.4 582.9 260.5 591.3 260.0 600.0C259.5 608.7 259.4 619.6 259.5 630.0C259.6 640.4 260.0 649.6 260.8 662.6C261.6 675.6 262.8 695.8 264.5 707.9C266.2 720.0 268.6 728.5 270.8 735.2C273.1 741.9 276.2 746.8 278.0 747.9C279.8 749.0 280.7 745.6 281.5 742.0C282.3 738.4 282.3 736.3 282.6 726.1C282.9 715.9 283.4 698.4 283.5 680.7C283.6 663.0 283.9 635.1 283.5 620.0C283.1 604.9 282.4 597.8 281.0 590.0C279.6 582.2 277.4 576.2 275.0 573.0C272.6 569.8 268.6 569.7 266.5 570.5Z"/></clipPath>
<g clip-path="url(#slot)"><path d="M258 560H266C263 600 264 680 276 750H258Z" fill="#35566a"/><path d="M266 560C263 600 264.500 680 277 750L284 750V560Z" fill="#8fafc0"/><path d="M272 640L284 625V700L274 700Z" fill="#5f8aa2"/><path d="M273 676L284 664V720L276 735Z" fill="#f1f5f7"/><path d="M266 585C270 600 272 640 272 680M272 676L284 663" class="n" stroke-width=".9"/></g>
<path d="M232.800 568.900L236 582L241 595L247.500 607L252 612.500L253.800 611L251 604L245 592L239 580ZM234.200 597.400L237 604L241.500 610L245.600 611.500L242 606L238 600Z" fill="#1d3443"/>
<path d="M236.400 603L246 622M247.500 626L251.500 635" stroke="#1d3443" stroke-width="1.600" stroke-dasharray="1.200 .8" fill="none"/>
</g>
<!-- part4 -->
<g id="part4b">
<path d="M404.3 823.9L406.3 816.6L429.7 802.9L440.2 800.5L445.0 805.3L450.6 802.1L456.3 811.8L465.2 813.4L465.6 816.6L451.5 828.7L435.3 838.4L419.2 848.1L409.5 852.1L407.9 846.5L405.1 838.4Z" fill="#86a7b9" class="o" stroke-width="1.400"/>
<path d="M407.9 846.5L428.9 835.2L446.6 822.3L459.5 813.4L465.2 813.4L465.6 816.6L451.5 828.7L435.3 838.4L419.2 848.1L409.5 852.1Z" fill="#1f3746"/>
<path d="M416.0 846.5L436.9 833.5L453.1 822.3L462.7 815.0L463.5 816.6L451.5 826.3L435.3 836.8L419.2 846.5Z" fill="#8fafc0"/>
<path d="M421.6 814.2L440.2 804.5L446.6 816.6L430.5 830.3Z" fill="#dfe8ec" class="o" stroke-width="1"/>
<path d="M432.1 809.0L440.2 804.5L446.6 816.6L439.4 823.1Z" fill="#b5cad5" class="o" stroke-width="1"/>
<path d="M445.0 805.3L450.6 802.1L456.3 811.8L449.8 815.8Z" fill="#9cb8c6" class="o" stroke-width="1"/>
<path d="M404.7 837.6L411.1 835.2L415.2 843.2L408.7 846.5Z" fill="#9cb8c6" class="o" stroke-width="1"/>
<path d="M415.2 822.3L420.8 819.0L428.1 833.5L422.4 836.8Z" fill="#7a9fb3" class="o" stroke-width="1.200"/>
<path d="M406.3 816.6L407.1 819.0L430.5 805.3L429.7 802.9" class="n" stroke-width="1.300"/>
<path d="M407.1 819.0L405.5 823.9L411.1 835.2" class="n" stroke-width="1.300"/>
<path d="M436.9 802.1L443.4 814.2" class="n" stroke-width="1.300"/>
</g>
<defs><linearGradient id="g4a" gradientUnits="userSpaceOnUse" x1="165" y1="750" x2="190" y2="772"><stop offset="0" stop-color="#f4f7f8"/><stop offset=".5" stop-color="#b5cad5"/><stop offset="1" stop-color="#6f97ad"/></linearGradient></defs>
<g id="part4a">
<path d="M172.7 718.1C169.1 719.3 161.5 723.0 158.1 726.0C154.7 729.0 153.3 733.0 152.1 736.3C150.9 739.6 149.9 741.6 150.9 746.0C151.9 750.4 155.3 757.7 158.1 762.9C160.9 768.1 164.8 774.0 167.8 777.4C170.8 780.8 172.9 782.3 176.3 783.5C179.7 784.7 184.4 785.7 188.4 784.7C192.4 783.7 197.3 780.0 200.5 777.4C203.7 774.8 205.9 771.1 207.7 768.9C209.5 766.7 210.6 767.5 211.4 764.1C212.2 760.7 213.2 753.0 212.6 748.4C212.0 743.8 209.5 739.5 207.7 736.3C205.9 733.1 202.9 731.0 201.7 729.0C200.5 727.0 201.9 724.8 200.5 724.2C199.1 723.6 195.6 726.0 193.2 725.4C190.8 724.8 188.2 721.7 186.0 720.6C183.8 719.5 182.1 719.1 179.9 718.7C177.7 718.3 176.3 716.9 172.7 718.1Z" fill="#6a92a9" class="o" stroke-width="1.800"/>
<path d="M159.4 739.9C161.2 736.9 165.4 735.3 170.2 733.9C175.0 732.5 182.9 730.5 188.4 731.5C193.9 732.5 199.7 736.1 202.9 739.9C206.1 743.7 207.7 749.3 207.7 754.4C207.7 759.5 205.7 766.2 202.9 770.2C200.1 774.2 195.0 777.2 190.8 778.6C186.6 780.0 181.5 780.4 177.5 778.6C173.5 776.8 169.6 772.1 166.6 767.7C163.6 763.3 160.6 756.6 159.4 752.0C158.2 747.4 157.6 742.9 159.4 739.9Z" fill="#86a7b9" class="o" stroke-width="1.300"/>
<path d="M163.0 747.2C163.6 742.7 168.9 741.9 172.7 740.5C176.5 739.1 182.0 737.0 186.0 738.7C190.0 740.4 194.5 746.0 196.9 750.8C199.3 755.6 201.5 763.7 200.5 767.7C199.5 771.7 194.2 773.4 190.8 775.0C187.4 776.6 183.5 778.6 179.9 777.4C176.3 776.2 171.8 772.7 169.0 767.7C166.2 762.7 162.4 751.7 163.0 747.2Z" fill="url(#g4a)" class="o" stroke-width="1.200"/>
<path d="M174.5 741.7C176.2 739.6 182.6 737.4 186.0 738.5C189.4 739.6 192.8 744.1 195.0 748.4C197.2 752.7 199.9 760.4 199.3 764.1C198.7 767.8 194.3 771.3 191.4 770.8C188.5 770.3 184.3 764.3 181.7 761.1C179.1 757.9 176.9 754.6 175.7 751.4C174.5 748.2 172.8 743.9 174.5 741.7Z" fill="#7fa2b5" class="o" stroke-width="1.200"/>
<path d="M177.5 741.7C177.9 743.4 178.3 748.3 179.9 752.0C181.5 755.7 185.0 761.2 187.2 764.1C189.4 767.0 192.2 768.7 193.2 769.6" class="n" stroke-width=".9"/>
<path d="M158.1 726.0L172.7 718.1L176.3 720.8L162.4 730.5Z" fill="#4a6f84" class="o" stroke-width="1.400"/>
<path d="M176.3 720.8C176.3 719.2 178.3 718.7 179.9 718.7C181.5 718.7 184.4 719.4 186.0 720.6C187.6 721.8 190.6 724.7 189.6 726.0C188.6 727.3 182.1 729.3 179.9 728.4C177.7 727.5 176.3 722.4 176.3 720.8Z" fill="#35566a" class="o" stroke-width="1.200"/>
<path d="M192.0 726.0L200.5 724.0L201.9 729.0L193.2 730.5Z" fill="#2d4a5b" class="o" stroke-width="1.200"/>
<path d="M188.4 738.7L194.4 735.1L204.1 739.9L211.6 764.1L205.9 767.1L201.1 767.7Z" fill="#6f97ad" class="o" stroke-width="1.400"/>
<path d="M186.6 736.3L202.3 767.7" class="n" stroke-width="2.400"/>
<path d="M196.2 738.7L210.2 765.3" class="n" stroke-width="2"/>
<path d="M178.7 729.3L190.8 730.2L188.4 736.3" class="n" stroke-width="2.400"/>
<path d="M202.3 767.7L210.8 765.3" class="n" stroke-width="2.400"/>
<path d="M181.1 775.0L193.2 770.8" class="n" stroke-width="2"/>
<path d="M157.5 740.5L166.0 737.5L167.2 741.7L158.7 745.0Z" fill="#f4f7f8" class="o" stroke-width="1.500"/>
<path d="M176.9 777.4L181.7 775.6L183.5 779.8L178.7 781.6Z" fill="#f4f7f8" class="o" stroke-width="1.500"/>
<path d="M170.8 733.9L178.7 731.2L179.4 734.5L171.7 736.8Z" fill="#e3ebef" class="o" stroke-width="1.200"/>
<circle cx="195.9" cy="748.7" r="1.100" fill="#13222c"/>
</g>
<g id="part5">
<path d="M529.2 730.8C530.0 730.2 533.2 728.6 534.2 727.2C535.2 725.9 535.6 724.1 535.1 722.7C534.6 721.4 532.8 719.3 531.5 719.1C530.2 718.9 528.1 720.5 527.3 721.4C526.5 722.3 526.7 724.0 526.6 724.5" fill="none" stroke="#13222c" stroke-width="2.200" stroke-linecap="round"/>
<path d="M527.9 732.7C528.0 731.0 528.0 729.0 530.6 729.0C533.2 729.0 540.3 731.3 543.3 732.7C546.3 734.1 548.0 735.4 548.8 737.2C549.5 739.0 548.9 741.9 547.8 743.5C546.7 745.1 544.3 746.8 542.4 746.8C540.5 746.8 538.2 744.8 536.1 743.5C534.0 742.2 531.1 740.8 529.7 739.0C528.3 737.2 527.8 734.4 527.9 732.7Z" fill="#2f4d5f" class="o" stroke-width="1.300"/>
<ellipse cx="543.9" cy="739.6" rx="4.300" ry="5.800" transform="rotate(25 543.9 739.6)" fill="#b5cad5" class="o" stroke-width="1.100"/>
<path d="M532.4 732.7L539.7 736.3" fill="none" stroke="#9cb8c6" stroke-width="1"/>
</g>
<!-- part5 -->
<g fill="none" stroke="#2d4d60" stroke-width=".9" stroke-dasharray="14 3 2 3"><path d="M211.4 739.9L231.9 729.0"/><path d="M409.0 775.3L429.0 804.3"/><path d="M414.5 666.2L525.2 729.7"/><path d="M693.0 483.7L643.7 511.0"/><path d="M653.5 595.6L775.0 541.0"/></g>
<!-- part6 -->
<defs>
<linearGradient id="g6" gradientUnits="userSpaceOnUse" x1="575" y1="500" x2="655" y2="700"><stop offset="0" stop-color="#8fafc0"/><stop offset=".5" stop-color="#7a9fb3"/><stop offset="1" stop-color="#6a92a9"/></linearGradient>
</defs><g id="part6">
<path d="M601.0 482.5C604.0 482.6 613.8 481.6 618.8 483.4C623.8 485.2 627.1 488.6 631.3 493.2C635.4 497.8 640.7 505.1 643.7 511.0C646.7 516.9 647.0 521.7 649.1 528.8C651.2 535.9 655.0 549.6 656.2 553.7L649.1 559.1L652.6 566.2L653.2 612.5C653.2 622.9 654.5 662.9 653.5 674.8C652.5 686.7 651.0 680.8 647.3 683.8C643.6 686.8 636.0 689.7 631.3 692.7C626.5 695.7 623.3 699.2 618.8 701.6C614.3 704.0 606.9 706.0 604.5 706.9L601.9 701.6L606.3 694.4L604.5 689.1L601.0 694.4C598.8 695.1 592.2 702.2 587.6 698.9C583.0 695.6 575.0 680.3 573.4 674.8C571.8 669.3 575.0 669.8 577.8 665.9C580.6 662.0 587.9 656.2 590.3 651.7C592.7 647.2 591.8 641.3 592.1 639.2L592.1 530.6L586.7 530.6C584.9 531.5 578.5 535.8 576.0 535.9C573.5 536.0 571.6 533.6 571.6 531.5C571.6 529.4 573.8 525.3 576.0 523.4C578.2 521.5 583.4 520.5 584.9 519.9C584.8 517.2 583.4 508.9 584.0 503.8C584.6 498.8 585.7 493.2 588.5 489.6C591.3 486.1 598.9 483.7 601.0 482.5Z" fill="url(#g6)" class="o" stroke-width="1.600"/>
<path d="M643.7 562.6L652.6 566.2L653.5 674.8L647.3 683.8L631.3 692.7L618.8 701.6L624.1 690.9L638.4 674.8L643.7 657.0Z" fill="#5f8aa2" class="o" stroke-width="1"/>
<path d="M636.6 569.8L643.7 562.6L643.7 657.0L638.4 674.8L624.1 690.9L618.8 701.6L611.7 699.8L627.7 683.8L636.6 662.4Z" fill="#86a7b9" class="o" stroke-width="1"/>
<path d="M592.1 530.6L597.4 528.8L608.1 534.1L608.1 639.2L611.7 640.1L609.9 649.9L592.1 669.5L577.8 665.9L590.3 651.7L592.1 639.2Z" fill="#7da1b5" class="o" stroke-width="1"/>
<path d="M608.1 534.1L613.4 541.3L618.8 559.1L633.0 569.8L636.6 569.8L636.6 662.4L627.7 683.8L611.7 699.8L606.3 694.4L604.5 689.1L609.9 649.9L611.7 640.1L608.1 639.2Z" fill="#7399ae" class="o" stroke-width="1"/>
<path d="M577.8 665.9L592.1 669.5L604.5 674.8L604.5 689.1L601.0 694.4L587.6 698.9L573.4 674.8Z" fill="#8fafc0" class="o" stroke-width="1"/>
<path d="M586.7 678.4L604.5 676.6L603.6 683.8L588.5 690.9Z" fill="#1c3341"/>
<path d="M588.5 489.6L601.0 482.5L618.8 483.4L631.3 493.2L643.7 511.0L638.4 516.3L627.7 521.7L620.6 505.6L608.1 503.8L601.0 514.5L592.1 514.5L584.9 519.9L584.0 503.8Z" fill="#6d95ab" class="o" stroke-width="1"/>
<path d="M607.2 486.0L620.6 486.9L621.5 505.6L620.6 519.9L611.7 521.7L608.1 505.6Z" fill="#8aaabb" class="o" stroke-width="1"/>
<path d="M588.5 490.5L601.9 514.5" class="n" stroke-width="1.200"/>
<path d="M595.6 493.2L607.7 498.5" class="n" stroke-width="1.200"/>
<path d="M621.5 502.1L634.8 511.0" class="n" stroke-width="1.200"/>
<path d="M608.1 499.4L621.5 498.5" class="n" stroke-width="1"/>
<path d="M608.1 505.6L621.5 504.7" class="n" stroke-width="1"/>
<path d="M592.1 530.6C591.1 532.1 589.4 529.7 586.7 530.6C584.0 531.5 578.5 535.8 576.0 535.9C573.5 536.0 571.6 533.6 571.6 531.5C571.6 529.4 573.8 525.3 576.0 523.4C578.2 521.5 582.1 520.2 584.9 519.9C587.7 519.6 591.8 519.9 593.0 521.7C594.2 523.5 593.1 529.1 592.1 530.6Z" fill="#9cb8c6" class="o" stroke-width="1.300"/>
<path d="M589.4 519.0L602.8 512.8L604.5 517.2L591.2 524.3Z" fill="#c9d9e1" class="o" stroke-width="1"/>
<path d="M611.7 531.5L625.9 525.2L627.7 529.7L613.4 536.8Z" fill="#c9d9e1" class="o" stroke-width="1"/>
<path d="M618.8 535.9L627.7 529.7L638.4 516.3L643.7 511.0L649.1 528.8L656.2 553.7L649.1 559.1L633.0 567.1L627.7 555.5Z" fill="#6790a7" class="o" stroke-width="1.300"/>
<path d="M618.8 535.9L627.7 531.5L636.6 548.4L633.0 567.1L625.9 553.7Z" fill="#8dadbe" class="o" stroke-width="1"/>
<path d="M638.4 517.2C639.6 520.3 643.7 528.9 645.5 535.9C647.3 542.9 648.5 555.2 649.1 559.1" class="n" stroke-width=".9"/>
<ellipse cx="619.7" cy="552.8" rx="2.500" ry="4" fill="#d5e1e7" class="o" stroke-width=".8"/>
<path d="M612.400 570.7L634.600 582.6M612.400 578.8L634.600 590.7" class="n" stroke-width="2.200"/>
<path d="M622.500 575.5L618.800 582.3" class="n" stroke-width="1.500"/>
<path d="M612.400 570.7L634.600 582.6L634.600 590.7L612.400 578.8Z" fill="#5f8aa2" opacity=".6"/>
<path d="M612.400 611.7L634.600 623.6M612.400 619.8L634.600 631.7" class="n" stroke-width="2.200"/>
<path d="M622.500 616.5L618.800 623.3" class="n" stroke-width="1.500"/>
<path d="M612.400 611.7L634.600 623.6L634.600 631.7L612.400 619.8Z" fill="#5f8aa2" opacity=".6"/>
<ellipse cx="622.3" cy="645.5" rx="6.300" ry="8" transform="rotate(-35 622.3 645.5)" fill="#d5e1e7" class="o" stroke-width="1"/>
<ellipse cx="623.6" cy="646.3" rx="4" ry="5.500" transform="rotate(-35 623.6 646.3)" fill="#a9c2ce" stroke="#2a4657" stroke-width=".7"/>
<path d="M608.1 685.5C608.7 683.7 612.5 680.8 615.2 680.2C617.9 679.6 623.2 680.7 624.1 682.0C625.0 683.3 622.7 686.7 620.6 688.2C618.5 689.7 613.8 691.4 611.7 690.9C609.6 690.4 607.5 687.3 608.1 685.5Z" fill="#e3ebef" class="o" stroke-width="1"/>
<path d="M638.4 658.8C637.8 661.5 637.5 669.4 634.8 674.8C632.1 680.1 626.1 686.7 622.3 690.9C618.4 695.1 613.5 698.3 611.7 699.8" class="n" stroke-width="1"/>
</g>
<!-- part7 -->
<defs>
<linearGradient id="g7c" gradientUnits="userSpaceOnUse" x1="671" y1="0" x2="690.500" y2="0"><stop offset="0" stop-color="#2f4d5f"/><stop offset=".3" stop-color="#7a9fb3"/><stop offset=".5" stop-color="#d5e1e7"/><stop offset=".62" stop-color="#8fafc0"/><stop offset=".72" stop-color="#1f3746"/><stop offset="1" stop-color="#6f97ad"/></linearGradient>
<linearGradient id="g7w" gradientUnits="userSpaceOnUse" x1="690" y1="440" x2="728" y2="500"><stop offset="0" stop-color="#8aaabb"/><stop offset=".35" stop-color="#c9d9e1"/><stop offset=".6" stop-color="#93b2c2"/><stop offset="1" stop-color="#5f8aa2"/></linearGradient>
</defs><g id="part7">
<path d="M667.7 418.1L667.2 414.5L671.3 410.0L680.4 408.3L688.6 409.5L694.0 413.6L694.0 418.1L690.4 420.4L689.9 426.3L695.8 431.8L700.4 431.8L703.1 434.5L704.0 441.7L708.5 450.8L715.8 459.9L722.1 469.9L725.8 479.9L727.1 490.7L726.7 512.5L723.9 517.1L720.3 516.2L714.0 512.5L708.5 504.4L704.0 498.9L695.8 490.7L688.6 485.3L681.3 480.8L675.9 479.9L674.0 483.5L668.6 485.3L663.1 482.6L661.3 478.0L655.0 478.0L654.1 472.6L654.1 454.4L656.8 447.2L665.9 440.8L667.7 439.9L667.7 434.5L670.9 431.8L670.9 420.0Z" fill="#7fa2b5" class="o" stroke-width="1.500"/>
<path d="M684.9 447.2L687.6 439.0L695.8 432.7L700.4 431.9L703.1 434.5L704.0 441.7L708.5 450.8L715.8 459.9L722.1 469.9L725.8 479.9L727.1 490.7L726.7 512.5L723.9 517.1L720.3 516.2L716.7 512.5L715.3 490.7L712.2 478.0L703.1 467.2L692.2 459.9L686.7 454.4Z" fill="url(#g7w)" class="o" stroke-width="1.100"/>
<path d="M717.6 490.7L718.0 511.6L721.2 512.5L722.1 510.3L723.2 510.7" class="n" stroke-width=".9"/>
<path d="M675.9 447.2L684.9 447.2L686.7 454.4L692.2 459.9L703.1 467.2L712.2 478.0L715.3 490.7L716.7 512.5L714.0 512.5L708.5 504.4L704.0 498.9L695.8 490.7L688.6 485.3L681.3 480.8L675.9 479.9L676.8 463.5Z" fill="#86a7b9" class="o" stroke-width="1.100"/>
<path d="M654.1 454.4L656.8 447.2L660.4 449.5L668.6 467.2L663.1 470.8L655.0 478.0L654.1 472.6Z" fill="#6f97ad" class="o" stroke-width="1.100"/>
<path d="M656.8 447.2L665.9 440.8L669.5 447.2L676.8 462.6L668.6 467.2L660.4 449.5Z" fill="#8fafc0" class="o" stroke-width="1.100"/>
<path d="M665.9 440.8L667.7 439.9L675.9 447.2L677.7 461.7L676.8 462.6L669.5 447.2Z" fill="#2d4a5b" class="o" stroke-width="1"/>
<path d="M670.9 418.1L670.9 439.9L675.9 444.5L684.0 443.6L689.9 439.0L689.9 420.4Z" fill="url(#g7c)" class="o" stroke-width="1.200"/>
<path d="M678.6 423.6L687.6 420.9L690.4 420.4L689.9 427.2L695.8 431.8L687.6 439.0L684.9 447.2L681.3 447.2L681.3 427.2L678.6 426.3Z" fill="#1b3140"/>
<path d="M681.8 427.2L684.9 426.3L684.9 442.6L681.8 443.6Z" fill="#7fa2b5"/>
<ellipse cx="680.7" cy="414.5" rx="13.600" ry="5.700" fill="#45687c" class="o" stroke-width="1.300"/>
<ellipse cx="681.3" cy="416.2" rx="8.800" ry="3.500" fill="#c3d4dd" stroke="#1b3140" stroke-width=".8"/>
<path d="M667.7 434.5L670.9 431.8L670.9 439.9L675.9 444.5L672.2 445.4L667.7 439.9Z" fill="#223a49"/>
<ellipse cx="683.6" cy="455.8" rx="2.300" ry="5.200" transform="rotate(-28 683.6 455.8)" fill="#f4f7f8" class="o" stroke-width=".9"/>
<ellipse cx="683.6" cy="475.3" rx="3.500" ry="6.200" transform="rotate(-25 683.6 475.3)" fill="#f4f7f8" class="o" stroke-width="1"/>
<ellipse cx="703.1" cy="471.7" rx="2" ry="4.500" transform="rotate(-50 703.1 471.7)" fill="#f4f7f8" class="o" stroke-width=".9"/>
<path d="M688.6 462.6L694.5 463.5L693.1 474.4Z" fill="#2a4657" class="o" stroke-width=".8"/>
<ellipse cx="701.7" cy="485.8" rx="4.800" ry="6.300" transform="rotate(-25 701.7 485.8)" fill="#b5cad5" class="o" stroke-width="1"/>
<path d="M699.4 480.8L703.1 484.4L708.5 480.8L707.6 487.1L704.0 491.7L701.3 487.1Z" fill="#1f3746"/>
<circle cx="662.7" cy="463.5" r="3.300" fill="#5f8aa2" class="o" stroke-width="1.100"/>
<path d="M663.1 473.5L671.3 472.6L674.9 477.1L674.0 483.5L668.6 485.3L663.1 482.6L661.3 478.0Z" fill="#2c495a" class="o" stroke-width="1.100"/>
<circle cx="670.0" cy="478.5" r="2.300" fill="#8fafc0"/>
</g>
<!-- part10 -->
<defs>
<linearGradient id="g10s" gradientUnits="userSpaceOnUse" x1="800" y1="370" x2="845" y2="470"><stop offset="0" stop-color="#dfe8ec"/><stop offset=".3" stop-color="#f0f4f6"/><stop offset=".55" stop-color="#b5cad5"/><stop offset=".8" stop-color="#7ea2b6"/><stop offset="1" stop-color="#6690a7"/></linearGradient>
</defs><g id="part10">
<path d="M804.9 371.3C809.5 370.7 814.2 372.1 817.9 375.0C821.6 377.9 824.3 381.9 827.1 388.9C829.9 395.8 832.2 408.3 834.5 416.7C836.8 425.1 839.6 432.8 841.0 439.0C842.4 445.2 842.5 443.9 842.9 453.8C843.2 463.7 843.1 479.1 843.1 498.3C843.1 517.5 843.7 554.9 842.9 568.8C842.1 582.7 841.8 578.0 838.3 581.7C834.8 585.4 825.9 588.8 821.6 591.0C817.3 593.2 815.7 594.8 812.3 595.1C808.9 595.4 805.5 595.8 801.2 592.9C796.9 590.0 790.5 583.6 786.3 578.0C782.1 572.4 778.4 565.0 776.2 559.5C774.0 554.0 773.6 558.0 773.0 544.7C772.4 531.4 772.6 499.9 772.6 479.8C772.6 459.7 772.4 435.6 773.0 424.2C773.6 412.8 774.6 417.7 776.2 411.2C777.8 404.7 780.3 390.6 782.6 385.2C784.9 379.8 786.4 381.0 790.1 378.7C793.8 376.4 800.3 371.9 804.9 371.3Z" fill="url(#g10s)" class="o" stroke-width="1.700"/>
<clipPath id="c10o"><path d="M804.9 371.3C809.5 370.7 814.2 372.1 817.9 375.0C821.6 377.9 824.3 381.9 827.1 388.9C829.9 395.8 832.2 408.3 834.5 416.7C836.8 425.1 839.6 432.8 841.0 439.0C842.4 445.2 842.5 443.9 842.9 453.8C843.2 463.7 843.1 479.1 843.1 498.3C843.1 517.5 843.7 554.9 842.9 568.8C842.1 582.7 841.8 578.0 838.3 581.7C834.8 585.4 825.9 588.8 821.6 591.0C817.3 593.2 815.7 594.8 812.3 595.1C808.9 595.4 805.5 595.8 801.2 592.9C796.9 590.0 790.5 583.6 786.3 578.0C782.1 572.4 778.4 565.0 776.2 559.5C774.0 554.0 773.6 558.0 773.0 544.7C772.4 531.4 772.6 499.9 772.6 479.8C772.6 459.7 772.4 435.6 773.0 424.2C773.6 412.8 774.6 417.7 776.2 411.2C777.8 404.7 780.3 390.6 782.6 385.2C784.9 379.8 786.4 381.0 790.1 378.7C793.8 376.4 800.3 371.9 804.9 371.3Z"/></clipPath>
<path d="M821.6 437.1L836.4 431.6L843.8 429.7L851.2 498.3L851.2 600.3L810.4 600.3L821.6 591.0L826.2 581.7L826.4 498.3L825.3 453.8Z" fill="#6d95ab" stroke="none" clip-path="url(#c10o)"/>
<path d="M821.6 437.1L834.5 431.9" class="n" stroke-width=".8"/>
<path d="M804.9 371.3C809.5 370.7 814.2 372.1 817.9 375.0C821.6 377.9 824.3 381.9 827.1 388.9C829.9 395.8 832.2 408.3 834.5 416.7C836.8 425.1 839.6 432.8 841.0 439.0C842.4 445.2 842.5 443.9 842.9 453.8C843.2 463.7 843.1 479.1 843.1 498.3C843.1 517.5 843.7 554.9 842.9 568.8C842.1 582.7 841.8 578.0 838.3 581.7C834.8 585.4 825.9 588.8 821.6 591.0C817.3 593.2 815.7 594.8 812.3 595.1C808.9 595.4 805.5 595.8 801.2 592.9C796.9 590.0 790.5 583.6 786.3 578.0C782.1 572.4 778.4 565.0 776.2 559.5C774.0 554.0 773.6 558.0 773.0 544.7C772.4 531.4 772.6 499.9 772.6 479.8C772.6 459.7 772.4 435.6 773.0 424.2C773.6 412.8 774.6 417.7 776.2 411.2C777.8 404.7 780.3 390.6 782.6 385.2C784.9 379.8 786.4 381.0 790.1 378.7C793.8 376.4 800.3 371.9 804.9 371.3Z" fill="none" class="o" stroke-width="1.700"/>
<path d="M786.3 381.5C788.5 380.7 792.8 380.1 795.6 380.6C798.4 381.1 800.5 381.4 803.0 384.3C805.5 387.2 807.9 390.3 810.4 398.2C812.9 406.1 815.4 422.3 817.9 431.6C820.4 440.9 823.9 442.7 825.3 453.8C826.7 464.9 826.2 477.0 826.4 498.3C826.5 519.6 827.0 566.4 826.2 581.7C825.4 597.0 823.9 587.9 821.6 590.1C819.3 592.3 815.7 594.6 812.3 595.1C808.9 595.6 805.5 595.8 801.2 592.9C796.9 590.0 790.5 583.6 786.3 578.0C782.1 572.4 778.4 565.0 776.2 559.5C774.0 554.0 773.6 558.0 773.0 544.7C772.4 531.4 772.6 499.9 772.6 479.8C772.6 459.7 772.4 435.6 773.0 424.2C773.6 412.8 774.6 417.7 776.2 411.2C777.8 404.7 780.9 390.1 782.6 385.2C784.3 380.2 784.1 382.3 786.3 381.5Z" fill="#8fafc0" class="o" stroke-width="1.300"/>
<path d="M788.6 386.2C790.4 385.3 793.5 384.1 795.6 384.3C797.7 384.5 799.2 384.5 801.2 387.1C803.2 389.7 805.4 392.5 807.7 400.1C810.0 407.7 812.6 423.2 815.1 432.5C817.6 441.8 821.1 444.7 822.5 455.7C823.9 466.7 823.2 477.6 823.4 498.3C823.5 519.0 824.0 565.1 823.4 579.9C822.8 594.7 821.6 585.4 819.7 587.3C817.9 589.1 815.2 590.7 812.3 591.0C809.4 591.3 806.0 591.8 802.1 589.2C798.2 586.6 792.5 580.6 788.6 575.3C784.7 570.0 781.0 562.9 778.9 557.6C776.8 552.3 776.7 556.7 776.2 543.7C775.7 530.7 775.8 499.6 775.8 479.8C775.8 460.0 775.7 436.4 776.2 425.1C776.7 413.8 777.4 418.0 778.9 412.1C780.4 406.2 783.5 394.2 785.1 389.9C786.7 385.6 786.9 387.1 788.6 386.2Z" fill="#6a92a9" class="o" stroke-width="1.100"/>
<clipPath id="c10"><path d="M788.6 386.2C790.4 385.3 793.5 384.1 795.6 384.3C797.7 384.5 799.2 384.5 801.2 387.1C803.2 389.7 805.4 392.5 807.7 400.1C810.0 407.7 812.6 423.2 815.1 432.5C817.6 441.8 821.1 444.7 822.5 455.7C823.9 466.7 823.2 477.6 823.4 498.3C823.5 519.0 824.0 565.1 823.4 579.9C822.8 594.7 821.6 585.4 819.7 587.3C817.9 589.1 815.2 590.7 812.3 591.0C809.4 591.3 806.0 591.8 802.1 589.2C798.2 586.6 792.5 580.6 788.6 575.3C784.7 570.0 781.0 562.9 778.9 557.6C776.8 552.3 776.7 556.7 776.2 543.7C775.7 530.7 775.8 499.6 775.8 479.8C775.8 460.0 775.7 436.4 776.2 425.1C776.7 413.8 777.4 418.0 778.9 412.1C780.4 406.2 783.5 394.2 785.1 389.9C786.7 385.6 786.9 387.1 788.6 386.2Z"/></clipPath><g clip-path="url(#c10)">
<path d="M778.0 427.9L793.8 437.1L796.5 450.1L778.0 464.9Z" fill="#a5bfcc" stroke="none"/>
<path d="M801.2 427.9L814.2 434.4L801.2 446.4Z" fill="#a5bfcc" stroke="none"/>
<path d="M801.2 461.2L821.6 453.8L822.5 490.9L811.4 479.8Z" fill="#a5bfcc" stroke="none"/>
<path d="M778.0 472.4L795.6 461.2L796.5 498.3L788.2 496.5Z" fill="#a5bfcc" stroke="none"/>
<path d="M778.0 498.3L787.3 498.3L795.6 503.9L778.0 516.9Z" fill="#a5bfcc" stroke="none"/>
<path d="M801.2 503.9L811.4 511.3L821.6 505.7L822.5 541.0L801.2 552.1Z" fill="#a5bfcc" stroke="none"/>
<path d="M778.0 524.3L786.3 542.8L778.0 542.8Z" fill="#a5bfcc" stroke="none"/>
<path d="M788.2 546.5L797.5 553.9L784.5 566.9Z" fill="#a5bfcc" stroke="none"/>
<path d="M802.1 561.3L822.5 546.5L822.5 578.0L814.2 587.3Z" fill="#a5bfcc" stroke="none"/>
<path d="M788.6 391.7L795.6 389.9L795.6 400.1L784.5 405.6Z" fill="#a5bfcc" stroke="none"/>
<path d="M799.3 407.5L805.8 405.6L813.2 427.9L801.2 424.2Z" fill="#a5bfcc" stroke="none"/>
<path d="M798.4 405.6L798.4 589.2" class="n" stroke-width="1.600"/>
<path d="M811.4 479.8L811.4 546.5" class="n" stroke-width="1.600"/>
<path d="M786.3 461.2L786.3 542.8" class="n" stroke-width="1.600"/>
<path d="M777.1 414.9L821.6 437.1" class="n" stroke-width="1.600"/>
<path d="M777.1 468.7L798.4 455.7L821.6 446.4" class="n" stroke-width="1.600"/>
<path d="M777.1 492.8L823.4 515.0" class="n" stroke-width="1.600"/>
<path d="M777.1 520.6L799.3 557.6L823.4 542.8" class="n" stroke-width="1.600"/>
<path d="M777.1 424.2L798.4 455.7" class="n" stroke-width="1.600"/>
<path d="M798.4 455.7L823.4 490.9" class="n" stroke-width="1.600"/>
<path d="M777.1 546.5L799.3 558.6" class="n" stroke-width="1.600"/>
<path d="M799.3 558.6L814.2 588.2" class="n" stroke-width="1.600"/>
<path d="M799.3 558.6L784.5 568.8" class="n" stroke-width="1.600"/>
<path d="M799.3 558.6L788.2 575.3" class="n" stroke-width="1.600"/>
<path d="M796.5 403.8L784.5 389.9" class="n" stroke-width="1.600"/>
<path d="M796.5 403.8L804.9 392.6" class="n" stroke-width="1.600"/>
<path d="M796.5 403.8L779.9 411.2" class="n" stroke-width="1.600"/>
<path d="M796.5 403.8L810.4 411.2" class="n" stroke-width="1.600"/>
<path d="M796.5 403.8L795.6 385.2" class="n" stroke-width="1.600"/>
</g>
<circle cx="796.5" cy="403.8" r="1.600" fill="#f4f7f8" stroke="#13222c" stroke-width=".6"/>
<circle cx="798.4" cy="455.7" r="1.600" fill="#f4f7f8" stroke="#13222c" stroke-width=".6"/>
<circle cx="799.3" cy="558.6" r="1.600" fill="#f4f7f8" stroke="#13222c" stroke-width=".6"/>
</g>
<!-- part8 -->
<defs>
<linearGradient id="g8" gradientUnits="userSpaceOnUse" x1="790" y1="660" x2="850" y2="730"><stop offset="0" stop-color="#a9c2ce"/><stop offset=".35" stop-color="#d9e4e9"/><stop offset=".6" stop-color="#b5cad5"/><stop offset="1" stop-color="#93b2c2"/></linearGradient>
</defs><g id="part8">
<path d="M822.6 645.6C824.5 646.0 829.3 646.1 833.9 648.1C838.5 650.1 845.2 654.0 850.0 657.7C854.8 661.5 859.8 666.6 862.9 670.6C866.0 674.6 867.3 676.5 868.5 681.9C869.7 687.3 869.8 693.5 870.2 702.9C870.6 712.3 870.9 732.5 871.0 738.4L868.5 740.8C864.9 739.9 853.6 737.5 846.8 735.2C839.9 732.9 833.3 730.1 827.4 727.1C821.5 724.1 817.5 720.9 811.3 717.4C805.1 713.9 795.9 709.0 790.3 706.1C784.6 703.2 779.9 701.6 777.4 699.7C774.9 697.8 775.4 695.6 775.0 694.8C776.2 692.4 778.4 685.9 782.3 680.3C786.2 674.7 793.0 666.2 798.4 661.0C803.8 655.8 810.5 651.5 814.5 648.9C818.5 646.3 821.2 646.1 822.6 645.6Z" fill="url(#g8)" class="o" stroke-width="1.800"/>
<path d="M869.4 685.2C868.0 685.7 864.0 686.9 861.3 688.4C858.6 689.9 855.9 691.5 853.2 694.0C850.5 696.5 847.8 700.3 845.2 703.7C842.7 707.1 840.2 710.4 837.9 714.2C835.6 718.0 832.6 724.3 831.5 726.3L846.8 735.2L868.5 740.8L871.0 738.4L870.2 702.9Z" fill="#6d95ab" class="o" stroke-width="1"/>
<path d="M775.0 694.8C775.1 693.7 775.4 692.1 778.2 693.2C781.0 694.3 785.9 697.8 791.9 701.3C797.9 704.8 807.9 710.0 814.5 714.2C821.1 718.4 829.4 724.1 831.5 726.3C833.6 728.4 830.8 728.6 827.4 727.1C824.0 725.6 817.5 720.9 811.3 717.4C805.1 713.9 795.9 709.0 790.3 706.1C784.6 703.2 779.9 701.6 777.4 699.7C774.9 697.8 774.9 695.9 775.0 694.8Z" fill="#7a9fb3" class="o" stroke-width="1"/>
<path d="M782.3 702.9C784.2 703.3 793.0 706.7 798.4 709.4C803.8 712.1 813.7 718.1 814.5 719.0C815.3 719.9 807.8 717.0 803.2 715.0C798.6 713.0 790.6 708.9 787.1 706.9C783.6 704.9 780.4 702.5 782.3 702.9Z" fill="#1f3746"/>
<path d="M833.9 648.4C831.2 650.5 823.4 655.7 817.7 661.0C812.1 666.3 804.8 674.5 800.0 680.3C795.2 686.1 790.6 693.0 788.7 695.6" class="n" stroke-width=".9"/>
<path d="M848.4 657.7C845.4 660.1 836.2 666.9 830.6 672.3C825.0 677.7 818.7 684.8 814.5 690.0C810.3 695.2 807.1 701.4 805.6 703.7" class="n" stroke-width=".9"/>
</g>
<!-- cable11 -->
<g id="cable11">
<path d="M655.8 791.6C657.7 792.0 663.6 792.8 667.1 794.2C670.6 795.7 672.5 797.2 676.8 800.3C681.1 803.4 687.5 808.6 692.9 812.6C698.3 816.6 703.6 820.7 709.0 824.5C714.4 828.3 719.8 832.2 725.2 835.2C730.6 838.2 735.4 840.7 741.3 842.3C747.2 843.9 754.7 845.3 760.6 844.8C766.5 844.3 774.1 840.3 776.8 839.4" fill="none" stroke="#13222c" stroke-width="5.200" stroke-linecap="round"/>
<path d="M655.8 791.6C657.7 792.0 663.6 792.8 667.1 794.2C670.6 795.7 672.5 797.2 676.8 800.3C681.1 803.4 687.5 808.6 692.9 812.6C698.3 816.6 703.6 820.7 709.0 824.5C714.4 828.3 719.8 832.2 725.2 835.2C730.6 838.2 735.4 840.7 741.3 842.3C747.2 843.9 754.7 845.3 760.6 844.8C766.5 844.3 774.1 840.3 776.8 839.4" fill="none" stroke="#8fafc0" stroke-width="2.800" stroke-linecap="round"/>
<defs><linearGradient id="gsra" gradientUnits="userSpaceOnUse" x1="796.7" y1="819.8" x2="803.3" y2="831.6"><stop offset="0" stop-color="#f4f7f8"/><stop offset=".45" stop-color="#eef3f5"/><stop offset="1" stop-color="#9cb8c6"/></linearGradient></defs>
<path d="M807.8 810.6L809.8 802.8L816.4 794.9L825.5 789.0L828.2 787.0L828.8 792.3L831.4 793.6L836.0 791.0L846.5 785.1L867.5 796.9L868.1 806.7L870.7 808.7L870.1 811.9L854.4 820.5L854.4 822.4L837.3 831.6L830.8 834.2L825.5 831.6L819.0 827.7L812.4 815.9Z" fill="#a9c2ce" class="o" stroke-width="1.300"/>
<path d="M807.8 810.6L809.8 802.8L816.4 794.9L825.5 789.0L828.2 787.0L828.8 792.3L831.4 793.6L836.0 791.0L854.4 804.1L851.7 805.4L841.3 809.3L836.7 814.6L833.4 822.4L831.4 828.3L828.2 810.0Z" fill="#c3d4dd" class="o" stroke-width="1"/>
<path d="M831.4 828.3L833.4 822.4L836.7 814.6L841.3 809.3L851.7 805.4L854.4 804.1L854.4 822.4L837.3 831.6L830.8 834.2Z" fill="#7a9fb3" class="o" stroke-width="1"/>
<path d="M836.0 791.0L846.5 785.1L867.5 796.9L854.4 804.1Z" fill="#b5cad5" class="o" stroke-width="1"/>
<path d="M854.4 804.1L867.5 796.9L868.1 806.7L870.7 808.7L870.1 811.9L854.4 820.5Z" fill="#7399ae" class="o" stroke-width="1"/>
<path d="M854.4 804.3L854.4 820.5" class="n" stroke-width="2"/>
<path d="M773.8 837.5L777.0 834.9L816.4 809.3L824.2 808.0L828.2 810.0L824.2 819.8L819.0 826.4L781.0 847.3L777.0 844.7Z" fill="url(#gsra)" class="o" stroke-width="1.300"/>
<path d="M777.0 834.9L779.7 839.5L781.0 847.3" class="n" stroke-width="1"/>
<rect x="595.5" y="784.2" width="17.0" height="4.2" fill="#8fafc0" class="o" stroke-width="1"/>
<rect x="595.5" y="792.7" width="18.4" height="4.2" fill="#8fafc0" class="o" stroke-width="1"/>
<rect x="599.1" y="799.7" width="16.2" height="4.3" fill="#8fafc0" class="o" stroke-width="1"/>
<defs><linearGradient id="g11" x1="0" y1="0" x2="0" y2="1"><stop offset="0" stop-color="#6f97ad"/><stop offset=".35" stop-color="#dfe8ec"/><stop offset=".7" stop-color="#8fafc0"/><stop offset="1" stop-color="#557e96"/></linearGradient></defs>
<path d="M609.6 779.3C612.1 778.6 618.4 778.0 622.3 778.6C626.2 779.2 628.9 782.1 632.9 782.8C636.9 783.5 643.3 782.3 646.3 782.8C649.2 783.3 649.1 784.8 650.6 785.6C652.1 786.4 654.6 785.5 655.5 787.7C656.4 789.9 657.0 796.8 656.2 799.0C655.4 801.2 652.2 800.4 650.6 801.1C649.0 801.8 649.2 802.8 646.3 803.3C643.3 803.8 636.9 803.5 632.9 804.0C628.9 804.5 625.7 806.0 622.3 806.1C618.9 806.2 615.0 805.9 612.5 804.7C610.0 803.5 608.5 801.4 607.5 799.0C606.5 796.6 606.5 793.3 606.5 790.6C606.5 787.9 607.0 784.7 607.5 782.8C608.0 780.9 607.1 780.0 609.6 779.3Z" fill="url(#g11)" class="o" stroke-width="1.300"/>
<path d="M622.3 778.6C623.4 779.9 627.3 783.4 628.7 786.3C630.1 789.2 631.9 792.9 630.8 796.2C629.7 799.5 623.7 804.5 622.3 806.1" class="n" stroke-width="1"/>
<path d="M610.3 780.0C611.5 781.0 615.8 783.6 617.4 786.3C619.0 789.0 620.8 793.1 620.2 796.2C619.6 799.3 615.0 803.3 613.9 804.7" class="n" stroke-width=".9"/>
<path d="M632.9 782.8L633.6 804.0" class="n" stroke-width="1"/>
<path d="M645.6 782.8L646.3 803.3" class="n" stroke-width="1"/>
<path d="M650.6 785.6L651.0 801.1" class="n" stroke-width="1"/>
</g>
<!-- cable12 -->
<g id="cable12">
<path d="M646.2 934.2C648.3 935.2 653.8 937.4 658.9 940.0C664.0 942.6 671.0 946.2 677.0 949.8C683.0 953.4 689.1 958.5 695.1 961.8C701.1 965.1 707.2 967.8 713.3 969.7C719.3 971.6 725.3 972.9 731.4 973.4C737.5 973.9 743.5 973.5 749.6 972.6C755.7 971.7 761.7 969.9 767.7 967.9C773.7 965.9 779.8 963.2 785.8 960.7C791.8 958.2 801.0 954.0 804.0 952.7" fill="none" stroke="#13222c" stroke-width="9.500" stroke-linecap="round"/>
<path d="M646.2 934.2C648.3 935.2 653.8 937.4 658.9 940.0C664.0 942.6 671.0 946.2 677.0 949.8C683.0 953.4 689.1 958.5 695.1 961.8C701.1 965.1 707.2 967.8 713.3 969.7C719.3 971.6 725.3 972.9 731.4 973.4C737.5 973.9 743.5 973.5 749.6 972.6C755.7 971.7 761.7 969.9 767.7 967.9C773.7 965.9 779.8 963.2 785.8 960.7C791.8 958.2 801.0 954.0 804.0 952.7" fill="none" stroke="#8fafc0" stroke-width="7" stroke-linecap="round"/>
<path d="M646.2 934.2C648.3 935.2 653.8 937.4 658.9 940.0C664.0 942.6 671.0 946.2 677.0 949.8C683.0 953.4 689.1 958.5 695.1 961.8C701.1 965.1 707.2 967.8 713.3 969.7C719.3 971.6 725.3 972.9 731.4 973.4C737.5 973.9 743.5 973.5 749.6 972.6C755.7 971.7 761.7 969.9 767.7 967.9C773.7 965.9 779.8 963.2 785.8 960.7C791.8 958.2 801.0 954.0 804.0 952.7" fill="none" stroke="#c9d9e1" stroke-width="2.200" stroke-linecap="round" transform="translate(0,-1.500)"/>
<defs><linearGradient id="gsrb" gradientUnits="userSpaceOnUse" x1="817.0" y1="937.8" x2="823.6" y2="949.6"><stop offset="0" stop-color="#f4f7f8"/><stop offset=".45" stop-color="#eef3f5"/><stop offset="1" stop-color="#9cb8c6"/></linearGradient></defs>
<path d="M828.1 928.6L830.1 920.8L836.7 912.9L845.8 907.0L848.5 905.0L849.1 910.3L851.7 911.6L856.3 909.0L866.8 903.1L887.8 914.9L888.4 924.7L891.0 926.7L890.4 929.9L874.7 938.5L874.7 940.4L857.6 949.6L851.1 952.2L845.8 949.6L839.3 945.7L832.7 933.9Z" fill="#a9c2ce" class="o" stroke-width="1.300"/>
<path d="M828.1 928.6L830.1 920.8L836.7 912.9L845.8 907.0L848.5 905.0L849.1 910.3L851.7 911.6L856.3 909.0L874.7 922.1L872.0 923.4L861.6 927.3L857.0 932.6L853.7 940.4L851.7 946.3L848.5 928.0Z" fill="#c3d4dd" class="o" stroke-width="1"/>
<path d="M851.7 946.3L853.7 940.4L857.0 932.6L861.6 927.3L872.0 923.4L874.7 922.1L874.7 940.4L857.6 949.6L851.1 952.2Z" fill="#7a9fb3" class="o" stroke-width="1"/>
<path d="M856.3 909.0L866.8 903.1L887.8 914.9L874.7 922.1Z" fill="#b5cad5" class="o" stroke-width="1"/>
<path d="M874.7 922.1L887.8 914.9L888.4 924.7L891.0 926.7L890.4 929.9L874.7 938.5Z" fill="#7399ae" class="o" stroke-width="1"/>
<path d="M874.7 922.3L874.7 938.5" class="n" stroke-width="2"/>
<path d="M794.1 955.5L797.3 952.9L836.7 927.3L844.5 926.0L848.5 928.0L844.5 937.8L839.3 944.4L801.3 965.3L797.3 962.7Z" fill="url(#gsrb)" class="o" stroke-width="1.300"/>
<path d="M797.3 952.9L800.0 957.5L801.3 965.3" class="n" stroke-width="1"/>
<defs><linearGradient id="g12" gradientUnits="userSpaceOnUse" x1="583.8" y1="896.6" x2="623.8" y2="922.1"><stop offset="0" stop-color="#9cb8c6"/><stop offset=".4" stop-color="#e6edf0"/><stop offset=".75" stop-color="#a9c2ce"/><stop offset="1" stop-color="#8fafc0"/></linearGradient>
<linearGradient id="g12b" gradientUnits="userSpaceOnUse" x1="571.6" y1="935.4" x2="614.9" y2="951.0"><stop offset="0" stop-color="#b5cad5"/><stop offset=".35" stop-color="#f4f7f8"/><stop offset=".6" stop-color="#a9c2ce"/><stop offset="1" stop-color="#6f97ad"/></linearGradient></defs>
<path d="M647.0 926.6L651.5 933.2L655.4 938.2L654.2 946.5L643.7 943.2Z" fill="#9cb8c6" class="o" stroke-width="1.200"/>
<path d="M608.2 922.1C608.9 919.5 617.4 921.0 621.5 919.9C625.6 918.8 629.1 915.6 632.6 915.5C636.1 915.4 640.2 918.3 642.6 919.4C645.0 920.5 646.5 920.6 647.3 921.9C648.1 923.2 648.1 923.7 647.6 927.1C647.1 930.5 645.5 938.1 644.3 942.1C643.1 946.1 641.8 949.1 640.4 951.0C639.0 952.9 638.1 953.9 635.9 953.7C633.7 953.5 629.7 951.1 627.1 949.9C624.5 948.7 622.1 948.9 620.4 946.5C618.7 944.1 619.1 939.5 617.1 935.4C615.1 931.3 607.5 924.7 608.2 922.1Z" fill="#a3bdca" class="o" stroke-width="1.400"/>
<path d="M580.0 906.1C579.8 903.7 580.2 899.9 581.6 897.7C583.0 895.5 585.3 893.9 588.3 892.8C591.3 891.7 595.7 890.9 599.4 891.1C603.1 891.3 606.9 892.2 610.4 893.9C613.9 895.6 617.4 898.4 620.4 901.1C623.4 903.8 626.1 907.5 628.2 909.9C630.3 912.3 632.7 914.2 633.2 915.7C633.8 917.2 632.7 917.9 631.5 918.8C630.3 919.7 628.8 921.1 626.0 921.3C623.2 921.5 618.6 920.9 614.9 920.1C611.2 919.4 607.5 917.9 603.8 916.8C600.1 915.7 596.2 914.3 592.7 913.5C589.2 912.7 584.8 913.4 582.7 912.2C580.6 911.0 580.2 908.5 580.0 906.1Z" fill="url(#g12)" class="o" stroke-width="1.500"/>
<path d="M581.6 912.2C584.6 910.8 589.0 912.7 592.7 913.5C596.4 914.3 600.5 915.5 603.8 916.8C607.1 918.0 610.3 919.0 612.7 921.0C615.1 923.0 617.0 926.0 618.2 928.8C619.4 931.6 620.1 934.9 619.9 937.7C619.7 940.5 618.3 946.1 617.1 945.4C615.9 944.6 614.9 936.3 612.7 933.2C610.5 930.1 607.3 928.2 603.8 926.6C600.3 925.0 596.0 924.2 591.6 923.8C587.2 923.4 580.0 924.7 577.2 924.4C574.4 924.1 574.3 924.1 575.0 922.1C575.7 920.1 578.6 913.6 581.6 912.2Z" fill="#dfe8ec" class="o" stroke-width="1.300"/>
<path d="M575.5 923.8C579.2 921.9 586.9 923.3 591.6 923.8C596.3 924.3 600.3 925.0 603.8 926.6C607.3 928.2 610.6 930.4 612.7 933.2C614.8 936.0 616.0 939.9 616.5 943.2C617.0 946.5 616.2 950.2 615.4 953.2C614.6 956.2 616.1 962.2 611.6 960.9C607.1 959.6 595.9 947.4 588.3 945.4C580.7 943.4 569.2 950.5 566.1 948.8C563.0 947.1 567.8 939.6 569.4 935.4C571.0 931.2 571.8 925.7 575.5 923.8Z" fill="url(#g12b)" class="o" stroke-width="1.300"/>
<path d="M572.7 928.8C575.3 928.6 583.3 927.2 588.3 927.7C593.3 928.2 598.9 929.8 602.7 931.6C606.5 933.5 609.1 936.3 611.0 938.8C612.9 941.3 613.3 945.2 613.8 946.5" class="n" stroke-width="1"/>
<path d="M609.3 960.4L612.9 962.1L611.6 967.6L607.1 969.8Z" fill="#9cb8c6" class="o" stroke-width="1.100"/>
<ellipse cx="588.8" cy="960.4" rx="25.500" ry="14.500" transform="rotate(17 588.8 960.4)" fill="#c9d9e1" class="o" stroke-width="1.500"/>
<ellipse cx="588.3" cy="960.1" rx="20.500" ry="10.800" transform="rotate(17 588.3 960.1)" fill="#54798f" class="o" stroke-width="1.200"/>
<path d="M576.1 965.4C578.0 965.4 584.0 968.2 588.3 968.7C592.5 969.2 598.5 969.2 601.6 968.7C604.7 968.2 607.1 964.9 607.1 965.4C607.1 965.9 604.7 970.8 601.6 972.0C598.5 973.2 592.4 973.1 588.3 972.6C584.2 972.1 579.2 969.9 577.2 968.7C575.2 967.5 574.2 965.4 576.1 965.4Z" fill="#dfe8ec" stroke="none"/>
<rect x="577.3" y="949.3" width="4.600" height="10" rx="2" transform="rotate(12 579.6 954.3)" fill="#d5e1e7" class="o" stroke-width="1.100"/>
<rect x="586.5" y="952.6" width="4.600" height="10" rx="2" transform="rotate(12 588.8 957.6)" fill="#d5e1e7" class="o" stroke-width="1.100"/>
<rect x="595.4" y="954.3" width="4.600" height="10" rx="2" transform="rotate(12 597.7 959.3)" fill="#d5e1e7" class="o" stroke-width="1.100"/>
</g>
<!-- cable13 -->
<g id="cable13">
<path d="M666.1 1179.1C668.5 1179.3 675.8 1180.3 680.6 1180.5C685.4 1180.7 690.2 1181.0 695.1 1180.5C700.0 1180.0 704.9 1179.1 709.7 1177.6C714.6 1176.1 719.4 1174.2 724.2 1171.5C729.0 1168.8 734.6 1165.0 738.7 1161.7C742.8 1158.4 747.1 1153.2 748.8 1151.5" fill="none" stroke="#13222c" stroke-width="4.2" stroke-linecap="round"/>
<path d="M666.1 1179.1C668.5 1179.3 675.8 1180.3 680.6 1180.5C685.4 1180.7 690.2 1181.0 695.1 1180.5C700.0 1180.0 704.9 1179.1 709.7 1177.6C714.6 1176.1 719.4 1174.2 724.2 1171.5C729.0 1168.8 734.6 1165.0 738.7 1161.7C742.8 1158.4 747.1 1153.2 748.8 1151.5" fill="none" stroke="#86a7b9" stroke-width="2.0" stroke-linecap="round"/>
<path d="M750.5 1132.2C750.6 1133.0 750.9 1135.4 750.9 1136.9C750.9 1138.5 750.6 1140.0 750.2 1141.5C749.8 1143.0 749.4 1144.5 748.7 1146.0C748.0 1147.5 747.2 1148.9 746.2 1150.3C745.2 1151.7 744.2 1153.0 743.0 1154.2C741.8 1155.4 740.4 1156.6 739.0 1157.6C737.6 1158.6 736.0 1159.6 734.4 1160.4C732.8 1161.2 731.1 1161.9 729.4 1162.5C727.7 1163.1 725.8 1163.5 724.0 1163.8C722.2 1164.1 720.4 1164.4 718.6 1164.4C716.8 1164.5 714.9 1164.3 713.1 1164.1C711.3 1163.9 709.6 1163.6 707.9 1163.1C706.2 1162.6 704.5 1161.9 703.0 1161.2C701.5 1160.5 700.0 1159.7 698.6 1158.7C697.2 1157.8 695.9 1156.7 694.8 1155.5C693.7 1154.3 692.7 1153.1 691.8 1151.8C690.9 1150.5 690.2 1149.0 689.6 1147.6C689.0 1146.2 688.7 1144.7 688.4 1143.2C688.1 1141.7 688.0 1140.1 688.0 1138.6C688.0 1137.1 688.3 1135.5 688.7 1134.0C689.1 1132.5 689.5 1130.9 690.2 1129.4C690.9 1127.9 691.8 1126.6 692.7 1125.2C693.7 1123.8 694.7 1122.5 695.9 1121.3C697.1 1120.1 698.5 1118.9 699.9 1117.9C701.3 1116.9 702.9 1115.9 704.5 1115.1C706.1 1114.3 707.8 1113.6 709.5 1113.0C711.2 1112.4 713.0 1111.9 714.8 1111.6C716.6 1111.3 718.5 1111.1 720.3 1111.1C722.1 1111.0 724.0 1111.1 725.8 1111.3C727.6 1111.5 729.3 1111.9 731.0 1112.4C732.7 1112.9 734.4 1113.5 735.9 1114.2C737.4 1114.9 738.9 1115.8 740.3 1116.8C741.7 1117.8 743.0 1118.8 744.1 1119.9C745.2 1121.0 746.2 1122.3 747.1 1123.6C748.0 1124.9 748.7 1126.4 749.3 1127.8C749.9 1129.2 750.3 1131.5 750.5 1132.2" fill="none" stroke="#13222c" stroke-width="3.7" stroke-linecap="round"/>
<path d="M750.5 1132.2C750.6 1133.0 750.9 1135.4 750.9 1136.9C750.9 1138.5 750.6 1140.0 750.2 1141.5C749.8 1143.0 749.4 1144.5 748.7 1146.0C748.0 1147.5 747.2 1148.9 746.2 1150.3C745.2 1151.7 744.2 1153.0 743.0 1154.2C741.8 1155.4 740.4 1156.6 739.0 1157.6C737.6 1158.6 736.0 1159.6 734.4 1160.4C732.8 1161.2 731.1 1161.9 729.4 1162.5C727.7 1163.1 725.8 1163.5 724.0 1163.8C722.2 1164.1 720.4 1164.4 718.6 1164.4C716.8 1164.5 714.9 1164.3 713.1 1164.1C711.3 1163.9 709.6 1163.6 707.9 1163.1C706.2 1162.6 704.5 1161.9 703.0 1161.2C701.5 1160.5 700.0 1159.7 698.6 1158.7C697.2 1157.8 695.9 1156.7 694.8 1155.5C693.7 1154.3 692.7 1153.1 691.8 1151.8C690.9 1150.5 690.2 1149.0 689.6 1147.6C689.0 1146.2 688.7 1144.7 688.4 1143.2C688.1 1141.7 688.0 1140.1 688.0 1138.6C688.0 1137.1 688.3 1135.5 688.7 1134.0C689.1 1132.5 689.5 1130.9 690.2 1129.4C690.9 1127.9 691.8 1126.6 692.7 1125.2C693.7 1123.8 694.7 1122.5 695.9 1121.3C697.1 1120.1 698.5 1118.9 699.9 1117.9C701.3 1116.9 702.9 1115.9 704.5 1115.1C706.1 1114.3 707.8 1113.6 709.5 1113.0C711.2 1112.4 713.0 1111.9 714.8 1111.6C716.6 1111.3 718.5 1111.1 720.3 1111.1C722.1 1111.0 724.0 1111.1 725.8 1111.3C727.6 1111.5 729.3 1111.9 731.0 1112.4C732.7 1112.9 734.4 1113.5 735.9 1114.2C737.4 1114.9 738.9 1115.8 740.3 1116.8C741.7 1117.8 743.0 1118.8 744.1 1119.9C745.2 1121.0 746.2 1122.3 747.1 1123.6C748.0 1124.9 748.7 1126.4 749.3 1127.8C749.9 1129.2 750.3 1131.5 750.5 1132.2" fill="none" stroke="#86a7b9" stroke-width="1.5" stroke-linecap="round"/>
<path d="M745.5 1133.1C745.5 1133.7 745.8 1135.6 745.8 1136.9C745.8 1138.2 745.6 1139.4 745.3 1140.7C745.0 1142.0 744.5 1143.3 743.9 1144.5C743.3 1145.7 742.7 1146.9 741.9 1148.0C741.1 1149.1 740.1 1150.2 739.1 1151.2C738.1 1152.2 737.0 1153.2 735.8 1154.0C734.6 1154.8 733.2 1155.6 731.9 1156.3C730.5 1157.0 729.2 1157.5 727.7 1158.0C726.2 1158.5 724.7 1158.9 723.2 1159.2C721.7 1159.5 720.1 1159.6 718.6 1159.6C717.1 1159.6 715.6 1159.6 714.1 1159.4C712.6 1159.2 711.1 1159.0 709.7 1158.6C708.3 1158.2 706.9 1157.7 705.6 1157.1C704.3 1156.5 703.0 1155.8 701.9 1155.0C700.8 1154.2 699.7 1153.3 698.7 1152.4C697.8 1151.5 696.9 1150.5 696.2 1149.4C695.5 1148.3 694.9 1147.2 694.4 1146.0C693.9 1144.8 693.6 1143.5 693.4 1142.3C693.2 1141.0 693.1 1139.8 693.1 1138.5C693.1 1137.2 693.3 1136.0 693.6 1134.7C693.9 1133.5 694.4 1132.2 695.0 1131.0C695.6 1129.8 696.2 1128.6 697.0 1127.5C697.8 1126.4 698.8 1125.3 699.8 1124.3C700.8 1123.3 701.9 1122.4 703.1 1121.5C704.3 1120.6 705.6 1119.8 707.0 1119.1C708.4 1118.4 709.8 1117.9 711.2 1117.4C712.7 1116.9 714.2 1116.6 715.7 1116.3C717.2 1116.0 718.8 1115.8 720.3 1115.8C721.8 1115.8 723.3 1115.8 724.8 1116.0C726.3 1116.2 727.8 1116.5 729.2 1116.9C730.6 1117.3 732.0 1117.7 733.3 1118.3C734.6 1118.9 735.9 1119.6 737.0 1120.4C738.1 1121.2 739.1 1122.0 740.1 1123.0C741.1 1124.0 742.0 1125.0 742.7 1126.1C743.4 1127.2 744.0 1128.3 744.5 1129.5C745.0 1130.7 745.3 1132.5 745.5 1133.1" fill="none" stroke="#13222c" stroke-width="3.7" stroke-linecap="round"/>
<path d="M745.5 1133.1C745.5 1133.7 745.8 1135.6 745.8 1136.9C745.8 1138.2 745.6 1139.4 745.3 1140.7C745.0 1142.0 744.5 1143.3 743.9 1144.5C743.3 1145.7 742.7 1146.9 741.9 1148.0C741.1 1149.1 740.1 1150.2 739.1 1151.2C738.1 1152.2 737.0 1153.2 735.8 1154.0C734.6 1154.8 733.2 1155.6 731.9 1156.3C730.5 1157.0 729.2 1157.5 727.7 1158.0C726.2 1158.5 724.7 1158.9 723.2 1159.2C721.7 1159.5 720.1 1159.6 718.6 1159.6C717.1 1159.6 715.6 1159.6 714.1 1159.4C712.6 1159.2 711.1 1159.0 709.7 1158.6C708.3 1158.2 706.9 1157.7 705.6 1157.1C704.3 1156.5 703.0 1155.8 701.9 1155.0C700.8 1154.2 699.7 1153.3 698.7 1152.4C697.8 1151.5 696.9 1150.5 696.2 1149.4C695.5 1148.3 694.9 1147.2 694.4 1146.0C693.9 1144.8 693.6 1143.5 693.4 1142.3C693.2 1141.0 693.1 1139.8 693.1 1138.5C693.1 1137.2 693.3 1136.0 693.6 1134.7C693.9 1133.5 694.4 1132.2 695.0 1131.0C695.6 1129.8 696.2 1128.6 697.0 1127.5C697.8 1126.4 698.8 1125.3 699.8 1124.3C700.8 1123.3 701.9 1122.4 703.1 1121.5C704.3 1120.6 705.6 1119.8 707.0 1119.1C708.4 1118.4 709.8 1117.9 711.2 1117.4C712.7 1116.9 714.2 1116.6 715.7 1116.3C717.2 1116.0 718.8 1115.8 720.3 1115.8C721.8 1115.8 723.3 1115.8 724.8 1116.0C726.3 1116.2 727.8 1116.5 729.2 1116.9C730.6 1117.3 732.0 1117.7 733.3 1118.3C734.6 1118.9 735.9 1119.6 737.0 1120.4C738.1 1121.2 739.1 1122.0 740.1 1123.0C741.1 1124.0 742.0 1125.0 742.7 1126.1C743.4 1127.2 744.0 1128.3 744.5 1129.5C745.0 1130.7 745.3 1132.5 745.5 1133.1" fill="none" stroke="#86a7b9" stroke-width="1.5" stroke-linecap="round"/>
<path d="M740.5 1134.0C740.5 1134.5 740.7 1136.0 740.7 1137.0C740.7 1138.0 740.5 1139.0 740.3 1140.0C740.0 1141.0 739.7 1142.0 739.2 1142.9C738.7 1143.9 738.1 1144.8 737.5 1145.7C736.9 1146.6 736.1 1147.4 735.3 1148.2C734.5 1149.0 733.6 1149.7 732.6 1150.4C731.6 1151.1 730.5 1151.7 729.4 1152.2C728.3 1152.7 727.2 1153.2 726.0 1153.6C724.8 1154.0 723.6 1154.3 722.4 1154.5C721.2 1154.7 719.9 1154.9 718.7 1154.9C717.5 1155.0 716.2 1154.9 715.0 1154.8C713.8 1154.7 712.6 1154.4 711.5 1154.1C710.4 1153.8 709.2 1153.5 708.2 1153.0C707.2 1152.5 706.1 1152.0 705.2 1151.4C704.3 1150.8 703.5 1150.0 702.7 1149.3C702.0 1148.6 701.3 1147.8 700.7 1147.0C700.1 1146.2 699.6 1145.2 699.2 1144.3C698.8 1143.4 698.6 1142.4 698.4 1141.4C698.2 1140.4 698.2 1139.5 698.2 1138.5C698.2 1137.5 698.4 1136.5 698.6 1135.5C698.9 1134.5 699.2 1133.5 699.7 1132.5C700.2 1131.5 700.8 1130.7 701.4 1129.8C702.0 1128.9 702.8 1128.0 703.6 1127.2C704.4 1126.4 705.3 1125.7 706.3 1125.0C707.3 1124.3 708.4 1123.7 709.5 1123.2C710.6 1122.7 711.7 1122.2 712.9 1121.8C714.1 1121.4 715.3 1121.1 716.5 1120.9C717.7 1120.7 719.0 1120.5 720.2 1120.5C721.4 1120.5 722.7 1120.6 723.9 1120.7C725.1 1120.8 726.3 1121.0 727.4 1121.3C728.5 1121.6 729.7 1122.0 730.7 1122.5C731.8 1123.0 732.8 1123.5 733.7 1124.1C734.6 1124.7 735.5 1125.4 736.2 1126.1C737.0 1126.8 737.6 1127.7 738.2 1128.5C738.8 1129.3 739.3 1130.2 739.7 1131.1C740.1 1132.0 740.4 1133.5 740.5 1134.0" fill="none" stroke="#13222c" stroke-width="3.7" stroke-linecap="round"/>
<path d="M740.5 1134.0C740.5 1134.5 740.7 1136.0 740.7 1137.0C740.7 1138.0 740.5 1139.0 740.3 1140.0C740.0 1141.0 739.7 1142.0 739.2 1142.9C738.7 1143.9 738.1 1144.8 737.5 1145.7C736.9 1146.6 736.1 1147.4 735.3 1148.2C734.5 1149.0 733.6 1149.7 732.6 1150.4C731.6 1151.1 730.5 1151.7 729.4 1152.2C728.3 1152.7 727.2 1153.2 726.0 1153.6C724.8 1154.0 723.6 1154.3 722.4 1154.5C721.2 1154.7 719.9 1154.9 718.7 1154.9C717.5 1155.0 716.2 1154.9 715.0 1154.8C713.8 1154.7 712.6 1154.4 711.5 1154.1C710.4 1153.8 709.2 1153.5 708.2 1153.0C707.2 1152.5 706.1 1152.0 705.2 1151.4C704.3 1150.8 703.5 1150.0 702.7 1149.3C702.0 1148.6 701.3 1147.8 700.7 1147.0C700.1 1146.2 699.6 1145.2 699.2 1144.3C698.8 1143.4 698.6 1142.4 698.4 1141.4C698.2 1140.4 698.2 1139.5 698.2 1138.5C698.2 1137.5 698.4 1136.5 698.6 1135.5C698.9 1134.5 699.2 1133.5 699.7 1132.5C700.2 1131.5 700.8 1130.7 701.4 1129.8C702.0 1128.9 702.8 1128.0 703.6 1127.2C704.4 1126.4 705.3 1125.7 706.3 1125.0C707.3 1124.3 708.4 1123.7 709.5 1123.2C710.6 1122.7 711.7 1122.2 712.9 1121.8C714.1 1121.4 715.3 1121.1 716.5 1120.9C717.7 1120.7 719.0 1120.5 720.2 1120.5C721.4 1120.5 722.7 1120.6 723.9 1120.7C725.1 1120.8 726.3 1121.0 727.4 1121.3C728.5 1121.6 729.7 1122.0 730.7 1122.5C731.8 1123.0 732.8 1123.5 733.7 1124.1C734.6 1124.7 735.5 1125.4 736.2 1126.1C737.0 1126.8 737.6 1127.7 738.2 1128.5C738.8 1129.3 739.3 1130.2 739.7 1131.1C740.1 1132.0 740.4 1133.5 740.5 1134.0" fill="none" stroke="#86a7b9" stroke-width="1.5" stroke-linecap="round"/>
<path d="M747.8 1149.7C749.9 1148.3 755.9 1144.5 760.4 1141.3C764.9 1138.1 770.8 1134.5 775.0 1130.5C779.2 1126.5 782.7 1121.2 785.8 1117.0C788.9 1112.8 792.5 1107.1 793.8 1105.1" fill="none" stroke="#13222c" stroke-width="4.2" stroke-linecap="round"/>
<path d="M747.8 1149.7C749.9 1148.3 755.9 1144.5 760.4 1141.3C764.9 1138.1 770.8 1134.5 775.0 1130.5C779.2 1126.5 782.7 1121.2 785.8 1117.0C788.9 1112.8 792.5 1107.1 793.8 1105.1" fill="none" stroke="#86a7b9" stroke-width="2.0" stroke-linecap="round"/>
<defs><linearGradient id="g13" gradientUnits="userSpaceOnUse" x1="820" y1="1040" x2="850" y2="1085"><stop offset="0" stop-color="#b5cad5"/><stop offset=".3" stop-color="#f1f5f7"/><stop offset=".6" stop-color="#c9d9e1"/><stop offset="1" stop-color="#8fafc0"/></linearGradient>
<linearGradient id="g13b" gradientUnits="userSpaceOnUse" x1="600" y1="1165" x2="625" y2="1210"><stop offset="0" stop-color="#b5cad5"/><stop offset=".3" stop-color="#f1f5f7"/><stop offset=".6" stop-color="#c9d9e1"/><stop offset="1" stop-color="#8fafc0"/></linearGradient></defs>
<path d="M785.8 1095.3C786.1 1091.8 788.3 1088.3 791.3 1084.4C794.3 1080.5 798.2 1077.5 804.0 1071.7C809.8 1066.0 817.3 1056.4 825.8 1049.9C834.3 1043.4 846.9 1036.4 854.8 1032.5C862.6 1028.6 868.1 1026.3 872.9 1026.3C877.7 1026.3 881.1 1029.2 883.8 1032.5C886.5 1035.8 888.7 1042.3 889.3 1046.3C889.9 1050.3 891.3 1052.8 887.4 1056.4C883.5 1060.0 873.6 1063.9 865.7 1068.1C857.9 1072.3 847.9 1078.5 840.3 1081.8C832.7 1085.1 824.8 1084.5 820.3 1088.0C815.8 1091.5 816.1 1098.9 813.1 1102.5C810.1 1106.1 806.1 1109.4 802.2 1109.8C798.3 1110.2 792.2 1107.5 789.5 1105.1C786.8 1102.7 785.5 1098.8 785.8 1095.3Z" fill="url(#g13)" class="o" stroke-width="1.500"/>
<path d="M853.0 1033.6C855.0 1036.0 862.5 1042.5 864.9 1048.1C867.3 1053.7 867.1 1064.1 867.5 1067.3" class="n" stroke-width="1"/>
<ellipse cx="796.0" cy="1098.2" rx="8.500" ry="6" transform="rotate(-30 796.0 1098.2)" fill="#8fafc0" class="o" stroke-width="1.100"/>
<ellipse cx="795.3" cy="1099.3" rx="4.500" ry="3.200" transform="rotate(-30 795.3 1099.3)" fill="#557e96" class="o" stroke-width=".9"/>
<ellipse cx="809.4" cy="1087.3" rx="1.3" ry="1.7" fill="#e3ebef" class="o" stroke-width=".8"/>
<ellipse cx="814.2" cy="1083.7" rx="1.6" ry="2.1" fill="#e3ebef" class="o" stroke-width=".8"/>
<ellipse cx="819.2" cy="1080.4" rx="1.9" ry="2.5" fill="#e3ebef" class="o" stroke-width=".8"/>
<ellipse cx="825.8" cy="1077.1" rx="2.3" ry="3.0" fill="#e3ebef" class="o" stroke-width=".8"/>
<ellipse cx="835.2" cy="1072.8" rx="2.7" ry="3.5" fill="#e3ebef" class="o" stroke-width=".8"/>
<path d="M878.4 1036.1C878.8 1036.6 880.9 1038.0 880.9 1039.0C880.9 1040.0 878.8 1041.4 878.4 1041.9" class="n" stroke-width=".9"/>
<path d="M589.9 1180.5C592.0 1175.0 598.9 1174.7 604.4 1172.6C609.9 1170.5 615.3 1168.7 622.6 1167.8C629.9 1166.9 641.6 1166.5 648.0 1167.1C654.4 1167.7 657.6 1169.8 660.7 1171.5C663.8 1173.2 665.8 1175.4 666.8 1177.6C667.8 1179.8 667.8 1182.6 666.8 1184.9C665.8 1187.2 662.6 1190.8 660.7 1191.4C658.8 1192.0 657.3 1189.6 655.2 1188.5C653.1 1187.4 651.3 1184.4 648.0 1184.9C644.7 1185.4 639.5 1188.5 635.3 1191.4C631.1 1194.3 627.1 1198.2 622.6 1202.3C618.1 1206.4 612.0 1212.5 608.1 1216.1C604.2 1219.7 601.7 1225.8 599.0 1224.1C596.3 1222.4 593.2 1213.2 591.7 1205.9C590.2 1198.6 587.8 1186.0 589.9 1180.5Z" fill="url(#g13b)" class="o" stroke-width="1.500"/>
<path d="M665.4 1176.2L671.6 1177.6L671.6 1182.7L666.1 1184.9Z" fill="#c9d9e1" class="o" stroke-width="1"/>
<circle cx="603.3" cy="1177.6" r="1.300" fill="#e3ebef" class="o" stroke-width=".7"/>
<circle cx="615.3" cy="1190.7" r="1.300" fill="#e3ebef" class="o" stroke-width=".7"/>
<circle cx="657.0" cy="1177.6" r="1.300" fill="#e3ebef" class="o" stroke-width=".7"/>
<path d="M577.2 1184.2C579.9 1177.2 584.8 1179.3 588.1 1180.5C591.4 1181.7 594.6 1186.6 597.2 1191.4C599.8 1196.2 603.1 1204.1 603.7 1209.6C604.3 1215.0 603.1 1221.2 600.8 1224.1C598.5 1227.0 593.2 1227.0 589.9 1227.0C586.6 1227.0 583.8 1224.9 580.8 1224.1C577.8 1223.3 572.4 1228.9 571.8 1222.3C571.2 1215.7 574.5 1191.2 577.2 1184.2Z" fill="#b5cad5" class="o" stroke-width="1.300"/>
<path d="M584.5 1183.4C586.1 1185.7 591.9 1191.9 594.3 1196.9C596.7 1201.9 598.8 1208.3 599.0 1213.2C599.2 1218.1 596.0 1224.1 595.4 1226.3" class="n" stroke-width="1"/>
<path d="M563.8 1205.9C563.2 1201.6 564.1 1197.9 566.3 1194.3C568.5 1190.7 573.9 1185.0 577.2 1184.2C580.5 1183.4 583.7 1186.3 586.3 1189.6C588.9 1192.9 591.9 1199.3 592.8 1204.1C593.7 1208.9 593.7 1215.3 591.7 1218.6C589.7 1221.9 584.4 1223.8 580.8 1224.1C577.2 1224.4 572.8 1223.4 570.0 1220.4C567.2 1217.4 564.4 1210.2 563.8 1205.9Z" fill="#dfe8ec" class="o" stroke-width="1.300"/>
<path d="M566.3 1205.9C565.9 1202.4 567.1 1198.7 568.9 1195.8C570.7 1192.9 574.6 1188.9 577.2 1188.5C579.8 1188.1 582.5 1190.4 584.5 1193.2C586.5 1196.0 588.7 1201.3 589.2 1205.2C589.7 1209.1 589.3 1214.3 587.7 1216.8C586.1 1219.3 582.6 1220.4 579.8 1220.4C577.0 1220.4 573.2 1219.2 571.0 1216.8C568.8 1214.4 566.6 1209.4 566.3 1205.9Z" fill="#6a92a9" class="o" stroke-width="1"/>
<circle cx="572.5" cy="1200.5" r="2.600" fill="#a9c2ce" class="o" stroke-width=".8"/>
<circle cx="580.8" cy="1196.9" r="2.600" fill="#a9c2ce" class="o" stroke-width=".8"/>
<circle cx="571.0" cy="1209.6" r="2.600" fill="#a9c2ce" class="o" stroke-width=".8"/>
<circle cx="579.0" cy="1207.8" r="2.600" fill="#a9c2ce" class="o" stroke-width=".8"/>
<circle cx="585.6" cy="1208.8" r="2.600" fill="#a9c2ce" class="o" stroke-width=".8"/>
<circle cx="577.2" cy="1216.1" r="2.600" fill="#a9c2ce" class="o" stroke-width=".8"/>
</g>
<!-- part14 -->
<defs>
<linearGradient id="g14f" gradientUnits="userSpaceOnUse" x1="260" y1="1000" x2="420" y2="1200"><stop offset="0" stop-color="#6f97ad"/><stop offset="1" stop-color="#628da4"/></linearGradient>
<linearGradient id="g14s" gradientUnits="userSpaceOnUse" x1="206" y1="0" x2="256" y2="0"><stop offset="0" stop-color="#8fafc0"/><stop offset=".5" stop-color="#a9c2ce"/><stop offset="1" stop-color="#b9ccd6"/></linearGradient>
<linearGradient id="g14t" gradientUnits="userSpaceOnUse" x1="250" y1="960" x2="330" y2="1060"><stop offset="0" stop-color="#a9c2ce"/><stop offset=".5" stop-color="#c3d4dd"/><stop offset="1" stop-color="#b5cad5"/></linearGradient>
</defs><g id="part14">
<path d="M427.3 1081.6C428.2 1078.6 433.4 1074.3 436.5 1072.7C439.6 1071.1 443.6 1071.1 445.8 1071.9C448.0 1072.7 450.7 1075.0 449.8 1077.6C448.9 1080.2 443.7 1085.5 440.6 1087.7C437.5 1089.9 433.5 1091.5 431.3 1090.5C429.1 1089.5 426.4 1084.6 427.3 1081.6Z" fill="#c3d4dd" class="o" stroke-width="1.200"/>
<path d="M431.3 1081.6C432.1 1079.8 435.6 1077.0 437.7 1076.0C439.8 1075.0 442.8 1075.2 444.2 1075.6C445.6 1076.0 446.6 1076.9 445.8 1078.4C445.0 1079.9 441.5 1083.5 439.4 1084.8C437.2 1086.1 434.2 1087.0 432.9 1086.5C431.5 1086.0 430.5 1083.3 431.3 1081.6Z" fill="#fff" class="o" stroke-width="1"/>
<path d="M241.0 1198.5L255.1 1207.4L214.8 1236.9L200.6 1244.9L196.6 1234.8Z" fill="#c9d9e1" class="o" stroke-width="1.100"/>
<path d="M364.1 940.7C365.9 940.9 372.9 941.8 374.6 942.0L414.2 965.7C415.7 967.2 421.3 970.7 423.4 974.9C425.5 979.1 426.1 988.1 426.6 990.8L426.6 1096.2C425.9 1099.3 425.1 1108.5 422.1 1114.7C419.2 1120.9 411.1 1130.1 408.9 1133.2L277.0 1209.6C274.8 1210.0 267.5 1212.7 263.8 1212.3C260.1 1211.9 256.1 1207.9 254.6 1207.0L216.4 1183.3C215.1 1181.5 210.2 1177.1 208.5 1172.7C206.8 1168.3 206.8 1159.5 206.4 1156.9L206.4 1064.6C207.2 1060.2 208.1 1045.7 211.1 1038.2C214.1 1030.7 219.0 1025.1 224.3 1019.8C229.6 1014.5 239.6 1008.8 242.7 1006.6L353.5 943.3C355.3 942.9 362.3 941.1 364.1 940.7Z" fill="url(#g14t)" class="o" stroke-width="1.800"/>
<path d="M206.4 1064.6L208.5 1048.8L212.7 1035.6L219.0 1025.0L228.2 1015.8L242.7 1006.6L269.1 1051.4L258.6 1064.6L254.6 1080.4L254.6 1207.0L216.4 1183.3L208.5 1172.7L206.4 1156.9Z" fill="url(#g14s)" stroke="none"/>
<path d="M224.3 1187.2L224.8 1069.9C225.6 1065.5 226.6 1051.0 229.6 1043.5C232.6 1036.0 237.4 1030.3 242.7 1025.0C248.0 1019.7 258.1 1014.1 261.2 1011.9L372.0 949.1C373.8 948.9 380.8 948.2 382.5 948.0" class="n" stroke-width="1"/>
<path d="M240.1 1196.5L240.6 1075.1C241.4 1071.1 242.6 1058.0 245.4 1051.4C248.2 1044.8 251.9 1040.4 257.2 1035.6C262.5 1030.8 273.7 1024.6 277.0 1022.4L385.1 959.1C387.3 958.7 396.1 956.9 398.3 956.5" class="n" stroke-width="1"/>
<path d="M252.0 1204.4L252.5 1080.4C253.2 1077.3 253.9 1067.7 256.5 1062.0C259.1 1056.3 262.6 1050.9 267.8 1046.1C273.0 1041.3 284.3 1035.2 287.6 1033.0L398.3 967.0C400.5 966.8 409.3 965.9 411.5 965.7" class="n" stroke-width="1"/>
<path d="M254.6 1080.4C255.3 1077.8 256.2 1069.4 258.6 1064.6C261.0 1059.8 263.8 1055.8 269.1 1051.4C274.4 1047.0 286.7 1040.4 290.2 1038.2L406.2 969.7C408.4 969.9 416.1 968.4 419.4 971.0C422.7 973.6 424.9 983.1 426.0 985.5L426.3 1096.2C425.6 1099.3 425.0 1108.5 422.1 1114.7C419.2 1120.9 411.1 1130.1 408.9 1133.2L277.0 1209.6C274.4 1209.8 264.9 1213.2 261.2 1211.0C257.5 1208.8 255.7 1198.9 254.6 1196.5Z" fill="url(#g14f)" class="o" stroke-width="1.500"/>
<path d="M286.3 998.7L332.4 972.3L344.3 978.9L298.1 1006.1L291.5 1010.5L285.5 1006.6Z" fill="#a9c2ce" class="o" stroke-width="1.200"/>
<path d="M286.3 998.7L332.4 972.3L337.7 975.5L292.3 1001.8Z" fill="#dfe8ec" class="o" stroke-width="1"/>
<path d="M286.3 998.7L292.3 1001.8L298.1 1006.1L291.5 1010.5L285.5 1006.6Z" fill="#7a9fb3" class="o" stroke-width="1"/>
<path d="M274.4 1009.7L286.3 1003.2L296.8 1009.7L284.9 1017.1Z" fill="#c9d9e1" class="o" stroke-width="1"/>
<ellipse cx="286.3" cy="1009.7" rx="4" ry="3.200" fill="#e3ebef" class="o" stroke-width="1"/>
<path d="M283.1 1008.7L289.5 1010.7" class="n" stroke-width="1"/>
<path d="M335.6 976.3L347.4 969.7L358.0 976.3L346.1 983.6Z" fill="#c9d9e1" class="o" stroke-width="1"/>
<ellipse cx="347.4" cy="976.3" rx="4" ry="3.200" fill="#e3ebef" class="o" stroke-width="1"/>
<path d="M344.2 975.3L350.6 977.3" class="n" stroke-width="1"/>
<path d="M218.8 1124.0L241.0 1133.2L241.0 1162.3L218.8 1152.2Z" fill="#b5cad5" class="o" stroke-width="1.200"/>
<path d="M222.8 1132.0L236.9 1138.1L236.9 1154.2L222.8 1148.1Z" fill="#dfe8ec" class="o" stroke-width="1"/>
<path d="M222.8 1132.0L236.9 1154.2" class="n" stroke-width=".9"/>
<path d="M236.9 1138.1L222.8 1148.1" class="n" stroke-width=".9"/>
<path d="M218.8 1152.2L241.0 1162.3L241.0 1190.5C240.0 1194.5 238.6 1207.3 234.9 1214.7C231.2 1222.1 223.5 1230.6 218.8 1234.8C214.1 1239.0 211.4 1239.7 206.7 1239.7C202.0 1239.7 194.0 1236.2 190.6 1234.8C187.2 1233.4 187.2 1232.1 186.5 1231.6C189.9 1229.1 201.6 1222.2 206.7 1216.7C211.8 1211.2 214.7 1204.9 216.8 1198.5C218.9 1192.1 218.8 1181.8 219.2 1178.4Z" fill="#a9c2ce" class="o" stroke-width="1.300"/>
<path d="M190.6 1223.5L213.5 1232.8" class="n" stroke-width=".9"/>
<path d="M158.3 1244.9C161.7 1241.7 175.6 1235.0 180.5 1232.8C185.4 1230.6 185.7 1230.9 187.7 1231.6C189.7 1232.3 195.8 1233.5 192.6 1236.9C189.4 1240.3 173.8 1249.3 168.4 1251.8C163.0 1254.3 162.0 1252.9 160.3 1251.8C158.6 1250.7 154.9 1248.1 158.3 1244.9Z" fill="#c3d4dd" class="o" stroke-width="1.300"/>
<path d="M163.5 1245.3C166.3 1243.3 176.8 1238.0 180.5 1236.5C184.2 1235.0 184.7 1236.2 185.7 1236.5C186.7 1236.8 189.4 1236.2 186.5 1238.1C183.6 1240.0 172.2 1246.4 168.4 1248.1C164.6 1249.8 164.3 1249.0 163.5 1248.5C162.7 1248.0 160.7 1247.3 163.5 1245.3Z" fill="#fff" class="o" stroke-width="1"/>
</g>
<!-- labels -->
<g class="ld">
<path d="M668.6 146.7L677 138H785.3L790.5 131.5L796.3 138H905L913.5 146.7"/>
<path d="M399.5 323L408 313H453.7L458.7 308L464.5 313H509L518 323"/>
<path d="M421.5 320V377.5"/>
<path d="M195 337V376"/>
<path d="M404 207.5V247.5"/>
<path d="M581.9 116V135.6"/>
<path d="M722 266.4V290"/>
<path d="M707.2 439.4H727.3"/>
<path d="M656.2 604.8H674.9"/>
<path d="M847.5 476.6H867"/>
<path d="M846.3 628.2V652.1"/>
<path d="M629.7 753.9V777.9"/>
<path d="M632.4 882.7V906.2"/>
<path d="M620 1146V1169.7"/>
<path d="M368.8 915.6V940.1"/>
<path d="M193.6 784.7V804"/>
<path d="M443.9 833.4V854.2"/>
<path d="M542.9 746.3V766.2"/>
</g>

<g class="lbl" text-anchor="middle" opacity=".999">
<text transform="translate(790.0 126.8) scale(.93 1)">1</text>
<text transform="translate(692.7 160.3) scale(.93 1)">2</text>
<text transform="translate(721.2 160.3) scale(.93 1)">3</text>
<text transform="translate(749.7 160.3) scale(.93 1)">4</text>
<text transform="translate(778.2 160.3) scale(.93 1)">5</text>
<text transform="translate(806.7 160.3) scale(.93 1)">6</text>
<text transform="translate(835.2 160.3) scale(.93 1)">7</text>
<text transform="translate(863.7 160.3) scale(.93 1)">8</text>
<text transform="translate(892.5 160.3) scale(.93 1)">9</text>
<text transform="translate(581.7 110.3) scale(.93 1)">2</text>
<text transform="translate(458.0 303.1) scale(.93 1)">3</text>
<text transform="translate(442.4 334.5) scale(.93 1)">4</text>
<text transform="translate(464.9 334.5) scale(.93 1)">5</text>
<text transform="translate(488.4 334.5) scale(.93 1)">6</text>
<text transform="translate(193.9 395.0) scale(.93 1)">15</text>
<text transform="translate(402.6 267.3) scale(.93 1)">16</text>
<text transform="translate(722.3 261.1) scale(.93 1)">9</text>
<text transform="translate(734.7 446.0) scale(.93 1)">7</text>
<text transform="translate(683.0 611.9) scale(.93 1)">6</text>
<text transform="translate(878.0 482.9) scale(.93 1)">10</text>
<text transform="translate(846.9 622.8) scale(.93 1)">8</text>
<text transform="translate(632.5 749.7) scale(.93 1)">11</text>
<text transform="translate(635.5 877.7) scale(.93 1)">12</text>
<text transform="translate(623.9 1141.3) scale(.93 1)">13</text>
<text transform="translate(365.9 912.2) scale(.93 1)">14</text>
<text transform="translate(193.0 822.0) scale(.93 1)">4</text>
<text transform="translate(443.6 872.2) scale(.93 1)">4</text>
<text transform="translate(542.3 783.3) scale(.93 1)">5</text>
</g>
<!-- watermark -->
<g id="watermark">
<g fill="#a8a8a8" opacity=".3">
<path d="M673.4 622.9L713.5 633.9L720.2 664.4L678.4 652.0Z"/>
<path d="M683.4 687.1L730.3 694.5L738.6 734.0L690.1 725.6Z"/>
<path d="M706.9 608.5L739.7 619.5L747.7 644.3L713.5 633.9Z"/>
<path d="M720.2 664.4L757.1 674.4L767.1 703.9L730.3 694.5Z"/>
<path d="M738.6 734.0L777.1 739.0L785.5 777.5L745.3 770.8Z"/>
<path d="M747.7 644.3L778.8 657.7L788.8 685.5L757.1 674.4Z"/>
<path d="M767.1 703.9L803.9 713.9L815.6 744.0L777.1 739.0Z"/>
<path d="M771.1 629.6L798.9 638.6L808.9 667.1L778.8 657.7Z"/>
<path d="M788.8 685.5L820.6 695.5L834.0 722.3L803.9 713.9Z"/>
<path d="M815.6 744.0L847.4 750.7L860.8 784.2L824.0 774.1Z"/>
<path d="M808.9 667.1L839.0 675.4L850.8 702.2L820.6 695.5Z"/>
<path d="M834.0 722.3L860.8 725.6L869.2 752.4L847.4 750.7Z"/>
<path d="M850.8 702.2L877.5 703.9L887.6 729.0L860.8 725.6Z"/>
<path d="M869.2 752.4L895.9 759.1L909.3 787.5L880.9 779.2Z"/>
<path d="M869.2 682.1L883.6 687.1L892.6 708.9L877.5 703.9Z"/>
<path d="M887.6 729.0L906.0 737.3L917.7 759.1L895.9 759.1Z"/>
</g>
<text y="725" x="70.500 154 231 318 404.500 479.500 535.500 573.500" font-size="148" font-weight="bold" fill="#e53935" opacity=".17">scuderia</text>
<text y="785.500" x="78.500 149 224 290 356 428 503 571 632" font-size="35" font-weight="bold" fill="#000" opacity=".085">car parts</text>
</g>
</g>
</svg>
</body></html>
